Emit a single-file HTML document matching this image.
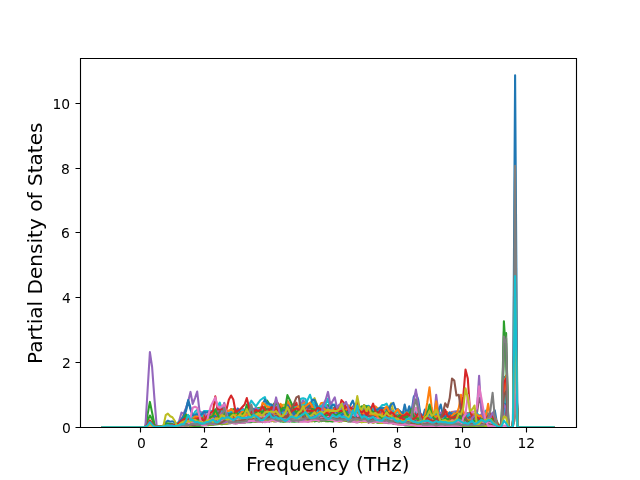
<!DOCTYPE html><html><head><meta charset="utf-8"><title>PDOS</title><style>html,body{margin:0;padding:0;background:#fff;}svg{display:block;will-change:transform}text{font-family:'DejaVu Sans','Liberation Sans',sans-serif;fill:#000}</style></head><body>
<svg width="640" height="480" viewBox="0 0 640 480">
<rect width="640" height="480" fill="#fff"/>
<defs><clipPath id="c"><rect x="80" y="57.6" width="496" height="369.6"/></clipPath></defs>
<g clip-path="url(#c)" fill="none" stroke-width="2.0833" stroke-linejoin="round" stroke-linecap="square">
<path stroke="#1f77b4" d="M102.5 427.2 104.8 427.2 107.1 427.2 109.3 427.2 111.6 427.2 113.8 427.2 116.1 427.2 118.3 427.2 120.6 427.2 122.8 427.2 125.1 427.2 127.3 427.2 129.6 427.2 131.9 427.2 134.1 427.2 136.4 427.2 138.6 427.2 140.9 427.2 143.1 427.2 145.4 427.1 147.6 425.4 149.9 423.6 152.1 425.1 154.4 426.8 156.7 426.8 158.9 426.7 161.2 426.5 163.4 426.3 165.7 426.1 167.9 426.0 170.2 425.4 172.4 424.8 174.7 425.0 176.9 425.2 179.2 423.4 181.5 421.3 183.7 420.8 186.0 420.5 188.2 419.6 190.5 421.4 192.7 420.3 195.0 420.0 197.2 420.8 199.5 418.8 201.7 419.9 204.0 421.2 206.3 419.9 208.5 420.3 210.8 421.4 213.0 420.0 215.3 417.4 217.5 415.8 219.8 416.6 222.0 416.6 224.3 416.7 226.5 416.8 228.8 414.9 231.1 415.9 233.3 416.2 235.6 416.5 237.8 417.9 240.1 417.0 242.3 413.2 244.6 414.5 246.8 415.9 249.1 415.4 251.3 415.9 253.6 415.1 255.9 415.9 258.1 415.4 260.4 416.1 262.6 412.6 264.9 415.1 267.1 416.8 269.4 414.3 271.6 414.0 273.9 414.4 276.1 415.6 278.4 410.4 280.7 405.1 282.9 413.7 285.2 414.2 287.4 413.8 289.7 414.3 291.9 417.0 294.2 416.6 296.4 414.3 298.7 412.6 300.9 409.8 303.2 411.9 305.5 410.2 307.7 406.8 310.0 414.2 312.2 415.0 314.5 413.0 316.7 412.4 319.0 411.6 321.2 413.2 323.5 414.7 325.7 412.0 328.0 405.4 330.3 410.6 332.5 417.5 334.8 416.1 337.0 415.6 339.3 414.1 341.5 412.7 343.8 408.1 346.0 409.8 348.3 411.6 350.5 412.8 352.8 412.3 355.1 411.2 357.3 410.0 359.6 413.4 361.8 414.4 364.1 410.8 366.3 412.0 368.6 415.2 370.8 417.1 373.1 417.2 375.3 418.3 377.6 419.7 379.9 415.3 382.1 413.8 384.4 414.8 386.6 413.1 388.9 414.3 391.1 416.8 393.4 420.4 395.6 419.2 397.9 416.7 400.1 413.5 402.4 412.2 404.7 415.5 406.9 420.0 409.2 421.2 411.4 418.4 413.7 417.9 415.9 418.1 418.2 419.7 420.4 420.6 422.7 421.7 424.9 420.6 427.2 420.4 429.5 419.3 431.7 418.9 434.0 420.1 436.2 420.2 438.5 419.8 440.7 417.9 443.0 418.1 445.2 420.2 447.5 420.3 449.7 417.2 452.0 417.6 454.3 416.2 456.5 417.0 458.8 419.6 461.0 420.6 463.3 419.9 465.5 418.6 467.8 418.9 470.0 421.0 472.3 420.9 474.5 419.9 476.8 419.5 479.1 422.4 481.3 420.9 483.6 420.6 485.8 419.8 488.1 420.0 490.3 418.6 492.6 418.9 494.8 421.9 497.1 424.7 499.3 427.2 501.6 422.5 503.9 409.6 506.1 391.9 508.4 427.2 510.6 427.2 512.9 427.2 515.1 398.5 517.4 427.2 519.6 427.2 521.9 427.2 524.1 427.2 526.4 427.2 528.7 427.2 530.9 427.2 533.2 427.2 535.4 427.2 537.7 427.2 539.9 427.2 542.2 427.2 544.4 427.2 546.7 427.2 548.9 427.2 551.2 427.2 553.5 427.2"/>
<path stroke="#ff7f0e" d="M102.5 427.2 104.8 427.2 107.1 427.2 109.3 427.2 111.6 427.2 113.8 427.2 116.1 427.2 118.3 427.2 120.6 427.2 122.8 427.2 125.1 427.2 127.3 427.2 129.6 427.2 131.9 427.2 134.1 427.2 136.4 427.2 138.6 427.2 140.9 427.2 143.1 427.2 145.4 427.1 147.6 426.2 149.9 425.2 152.1 426.0 154.4 426.7 156.7 426.7 158.9 426.5 161.2 426.4 163.4 426.2 165.7 425.5 167.9 424.7 170.2 424.8 172.4 424.9 174.7 424.8 176.9 425.1 179.2 423.3 181.5 421.0 183.7 414.3 186.0 414.1 188.2 417.2 190.5 419.4 192.7 420.7 195.0 415.3 197.2 412.7 199.5 416.8 201.7 416.0 204.0 416.5 206.3 418.5 208.5 413.9 210.8 410.7 213.0 412.9 215.3 413.1 217.5 412.3 219.8 415.9 222.0 413.1 224.3 412.0 226.5 414.8 228.8 412.2 231.1 415.0 233.3 417.8 235.6 415.8 237.8 414.3 240.1 413.2 242.3 413.8 244.6 411.0 246.8 412.7 249.1 412.0 251.3 413.0 253.6 411.1 255.9 407.6 258.1 409.0 260.4 411.7 262.6 412.1 264.9 406.5 267.1 405.5 269.4 407.2 271.6 409.0 273.9 412.6 276.1 413.5 278.4 411.5 280.7 409.2 282.9 409.0 285.2 410.7 287.4 406.8 289.7 405.2 291.9 406.3 294.2 406.7 296.4 410.7 298.7 410.1 300.9 407.4 303.2 405.0 305.5 406.4 307.7 410.9 310.0 407.8 312.2 409.0 314.5 409.8 316.7 411.6 319.0 407.4 321.2 403.0 323.5 402.9 325.7 407.6 328.0 413.3 330.3 412.8 332.5 411.6 334.8 411.2 337.0 407.6 339.3 409.1 341.5 409.3 343.8 408.6 346.0 412.7 348.3 413.8 350.5 412.1 352.8 406.4 355.1 405.7 357.3 405.7 359.6 409.0 361.8 413.7 364.1 411.6 366.3 409.9 368.6 414.0 370.8 413.1 373.1 408.1 375.3 406.4 377.6 408.2 379.9 411.1 382.1 410.9 384.4 408.5 386.6 410.8 388.9 410.1 391.1 408.3 393.4 413.9 395.6 416.1 397.9 414.9 400.1 412.5 402.4 412.2 404.7 413.2 406.9 413.5 409.2 417.2 411.4 416.6 413.7 415.6 415.9 418.2 418.2 419.9 420.4 419.9 422.7 419.2 424.9 418.4 427.2 418.5 429.5 415.0 431.7 411.6 434.0 415.1 436.2 414.4 438.5 416.0 440.7 417.5 443.0 416.8 445.2 417.0 447.5 416.3 449.7 416.7 452.0 411.7 454.3 412.6 456.5 416.8 458.8 412.5 461.0 411.4 463.3 415.9 465.5 415.1 467.8 418.0 470.0 417.3 472.3 418.4 474.5 417.9 476.8 420.9 479.1 421.6 481.3 416.2 483.6 411.4 485.8 415.3 488.1 414.3 490.3 415.2 492.6 418.3 494.8 419.1 497.1 422.9 499.3 427.2 501.6 423.7 503.9 409.3 506.1 398.8 508.4 427.2 510.6 427.2 512.9 427.2 515.1 358.6 517.4 427.2 519.6 427.2 521.9 427.2 524.1 427.2 526.4 427.2 528.7 427.2 530.9 427.2 533.2 427.2 535.4 427.2 537.7 427.2 539.9 427.2 542.2 427.2 544.4 427.2 546.7 427.2 548.9 427.2 551.2 427.2 553.5 427.2"/>
<path stroke="#2ca02c" d="M102.5 427.2 104.8 427.2 107.1 427.2 109.3 427.2 111.6 427.2 113.8 427.2 116.1 427.2 118.3 427.2 120.6 427.2 122.8 427.2 125.1 427.2 127.3 427.2 129.6 427.2 131.9 427.2 134.1 427.2 136.4 427.2 138.6 427.2 140.9 427.2 143.1 427.2 145.4 427.1 147.6 426.3 149.9 425.5 152.1 426.2 154.4 426.9 156.7 426.7 158.9 426.2 161.2 426.1 163.4 426.0 165.7 426.1 167.9 426.3 170.2 426.0 172.4 425.0 174.7 424.9 176.9 424.9 179.2 422.7 181.5 421.9 183.7 417.5 186.0 415.0 188.2 419.4 190.5 420.0 192.7 417.7 195.0 417.8 197.2 417.0 199.5 418.6 201.7 417.2 204.0 417.6 206.3 418.6 208.5 418.2 210.8 417.2 213.0 418.7 215.3 416.7 217.5 414.4 219.8 413.8 222.0 414.8 224.3 411.5 226.5 414.7 228.8 415.7 231.1 410.1 233.3 409.1 235.6 414.1 237.8 415.1 240.1 414.2 242.3 414.7 244.6 413.0 246.8 408.7 249.1 410.2 251.3 411.4 253.6 410.7 255.9 411.0 258.1 408.1 260.4 407.7 262.6 410.5 264.9 408.3 267.1 400.6 269.4 404.4 271.6 407.5 273.9 403.7 276.1 409.5 278.4 411.9 280.7 410.6 282.9 412.5 285.2 412.2 287.4 409.8 289.7 410.5 291.9 412.2 294.2 413.0 296.4 412.4 298.7 408.8 300.9 411.0 303.2 408.0 305.5 402.9 307.7 408.6 310.0 405.6 312.2 402.9 314.5 408.7 316.7 412.6 319.0 409.5 321.2 406.7 323.5 406.2 325.7 408.2 328.0 405.1 330.3 405.4 332.5 410.0 334.8 406.8 337.0 409.8 339.3 412.9 341.5 410.5 343.8 403.0 346.0 407.9 348.3 414.3 350.5 411.8 352.8 409.1 355.1 410.2 357.3 412.8 359.6 414.9 361.8 411.6 364.1 412.0 366.3 411.9 368.6 413.6 370.8 413.9 373.1 410.8 375.3 411.6 377.6 414.9 379.9 415.5 382.1 413.3 384.4 409.7 386.6 410.6 388.9 412.3 391.1 413.7 393.4 415.0 395.6 416.3 397.9 417.8 400.1 413.5 402.4 415.8 404.7 416.1 406.9 411.5 409.2 412.9 411.4 414.8 413.7 417.6 415.9 419.3 418.2 417.2 420.4 415.6 422.7 417.7 424.9 416.4 427.2 419.0 429.5 418.5 431.7 416.2 434.0 416.8 436.2 417.1 438.5 418.9 440.7 419.4 443.0 420.1 445.2 419.9 447.5 420.2 449.7 419.5 452.0 416.4 454.3 417.1 456.5 417.2 458.8 411.0 461.0 417.1 463.3 418.8 465.5 413.5 467.8 413.4 470.0 418.6 472.3 420.1 474.5 419.3 476.8 416.6 479.1 418.4 481.3 419.0 483.6 417.3 485.8 415.6 488.1 418.6 490.3 418.9 492.6 420.0 494.8 417.7 497.1 422.0 499.3 427.2 501.6 423.9 503.9 412.3 506.1 413.4 508.4 427.2 510.6 427.2 512.9 427.2 515.1 379.7 517.4 427.2 519.6 427.2 521.9 427.2 524.1 427.2 526.4 427.2 528.7 427.2 530.9 427.2 533.2 427.2 535.4 427.2 537.7 427.2 539.9 427.2 542.2 427.2 544.4 427.2 546.7 427.2 548.9 427.2 551.2 427.2 553.5 427.2"/>
<path stroke="#d62728" d="M102.5 427.2 104.8 427.2 107.1 427.2 109.3 427.2 111.6 427.2 113.8 427.2 116.1 427.2 118.3 427.2 120.6 427.2 122.8 427.2 125.1 427.2 127.3 427.2 129.6 427.2 131.9 427.2 134.1 427.2 136.4 427.2 138.6 427.2 140.9 427.2 143.1 427.2 145.4 427.1 147.6 426.4 149.9 425.6 152.1 426.3 154.4 427.0 156.7 427.0 158.9 427.0 161.2 427.0 163.4 426.8 165.7 426.6 167.9 426.5 170.2 426.1 172.4 426.2 174.7 425.9 176.9 425.4 179.2 423.9 181.5 423.2 183.7 422.8 186.0 422.5 188.2 422.4 190.5 422.0 192.7 422.5 195.0 421.7 197.2 421.9 199.5 422.1 201.7 421.9 204.0 420.5 206.3 421.8 208.5 421.3 210.8 420.5 213.0 419.8 215.3 419.4 217.5 418.7 219.8 419.1 222.0 420.9 224.3 420.7 226.5 420.9 228.8 420.1 231.1 420.8 233.3 420.8 235.6 419.1 237.8 416.4 240.1 417.0 242.3 417.1 244.6 416.7 246.8 419.6 249.1 420.8 251.3 419.3 253.6 417.5 255.9 414.6 258.1 413.7 260.4 416.6 262.6 412.1 264.9 411.9 267.1 413.9 269.4 413.0 271.6 411.2 273.9 415.3 276.1 417.1 278.4 416.9 280.7 418.2 282.9 416.5 285.2 416.3 287.4 415.7 289.7 415.9 291.9 416.8 294.2 415.5 296.4 417.2 298.7 416.5 300.9 417.6 303.2 415.8 305.5 416.6 307.7 417.0 310.0 418.3 312.2 419.4 314.5 418.1 316.7 416.0 319.0 416.0 321.2 418.9 323.5 419.8 325.7 418.7 328.0 417.5 330.3 417.7 332.5 417.3 334.8 415.0 337.0 414.4 339.3 415.9 341.5 417.7 343.8 416.9 346.0 417.7 348.3 418.6 350.5 416.0 352.8 415.6 355.1 416.2 357.3 414.1 359.6 415.2 361.8 415.1 364.1 413.6 366.3 415.4 368.6 418.9 370.8 418.5 373.1 417.1 375.3 418.6 377.6 418.4 379.9 417.0 382.1 414.9 384.4 414.8 386.6 416.3 388.9 418.1 391.1 417.5 393.4 418.7 395.6 419.7 397.9 418.8 400.1 419.7 402.4 420.8 404.7 419.9 406.9 420.4 409.2 420.8 411.4 422.2 413.7 422.2 415.9 423.0 418.2 423.7 420.4 423.5 422.7 421.1 424.9 422.0 427.2 422.0 429.5 421.1 431.7 421.8 434.0 422.5 436.2 423.5 438.5 422.8 440.7 422.1 443.0 421.3 445.2 422.1 447.5 423.8 449.7 424.0 452.0 422.9 454.3 420.6 456.5 420.1 458.8 421.6 461.0 424.0 463.3 424.6 465.5 423.3 467.8 422.6 470.0 422.5 472.3 422.0 474.5 422.9 476.8 423.8 479.1 423.6 481.3 422.6 483.6 422.5 485.8 421.7 488.1 419.7 490.3 421.6 492.6 423.4 494.8 424.8 497.1 425.9 499.3 427.2 501.6 425.0 503.9 399.2 506.1 383.4 508.4 427.2 510.6 427.2 512.9 427.2 515.1 317.4 517.4 427.2 519.6 427.2 521.9 427.2 524.1 427.2 526.4 427.2 528.7 427.2 530.9 427.2 533.2 427.2 535.4 427.2 537.7 427.2 539.9 427.2 542.2 427.2 544.4 427.2 546.7 427.2 548.9 427.2 551.2 427.2 553.5 427.2"/>
<path stroke="#9467bd" d="M102.5 427.2 104.8 427.2 107.1 427.2 109.3 427.2 111.6 427.2 113.8 427.2 116.1 427.2 118.3 427.2 120.6 427.2 122.8 427.2 125.1 427.2 127.3 427.2 129.6 427.2 131.9 427.2 134.1 427.2 136.4 427.2 138.6 427.2 140.9 427.2 143.1 427.2 145.4 427.2 147.6 426.2 149.9 425.2 152.1 426.0 154.4 427.0 156.7 427.1 158.9 427.0 161.2 426.8 163.4 426.7 165.7 426.6 167.9 426.4 170.2 426.2 172.4 426.1 174.7 426.1 176.9 426.0 179.2 424.7 181.5 424.7 183.7 423.8 186.0 422.3 188.2 422.3 190.5 422.2 192.7 421.5 195.0 420.6 197.2 420.7 199.5 419.7 201.7 422.5 204.0 422.6 206.3 422.5 208.5 422.2 210.8 420.8 213.0 419.6 215.3 421.1 217.5 420.9 219.8 419.4 222.0 418.2 224.3 416.8 226.5 417.8 228.8 419.2 231.1 419.8 233.3 419.6 235.6 420.1 237.8 420.4 240.1 419.4 242.3 419.0 244.6 419.1 246.8 418.5 249.1 415.8 251.3 415.9 253.6 416.4 255.9 418.7 258.1 419.2 260.4 418.0 262.6 417.1 264.9 417.6 267.1 416.8 269.4 414.4 271.6 416.1 273.9 418.2 276.1 418.2 278.4 417.6 280.7 417.6 282.9 418.4 285.2 417.3 287.4 415.7 289.7 416.5 291.9 418.0 294.2 417.9 296.4 417.0 298.7 415.6 300.9 414.8 303.2 415.9 305.5 417.2 307.7 415.0 310.0 415.5 312.2 415.1 314.5 415.6 316.7 417.7 319.0 417.4 321.2 415.9 323.5 414.7 325.7 417.7 328.0 420.4 330.3 418.2 332.5 415.4 334.8 414.1 337.0 414.0 339.3 411.8 341.5 412.4 343.8 413.1 346.0 415.8 348.3 418.3 350.5 416.2 352.8 415.2 355.1 416.8 357.3 416.2 359.6 417.3 361.8 418.3 364.1 417.6 366.3 417.3 368.6 417.7 370.8 418.4 373.1 418.5 375.3 420.4 377.6 420.2 379.9 420.6 382.1 419.5 384.4 418.0 386.6 418.4 388.9 419.1 391.1 418.5 393.4 418.4 395.6 420.7 397.9 420.7 400.1 422.0 402.4 421.8 404.7 421.5 406.9 421.8 409.2 421.0 411.4 420.9 413.7 422.6 415.9 422.7 418.2 423.3 420.4 424.1 422.7 423.5 424.9 423.1 427.2 422.1 429.5 422.4 431.7 421.3 434.0 422.3 436.2 421.2 438.5 421.6 440.7 421.3 443.0 420.7 445.2 420.6 447.5 420.4 449.7 420.3 452.0 422.2 454.3 423.4 456.5 424.0 458.8 422.7 461.0 421.6 463.3 421.9 465.5 422.2 467.8 422.7 470.0 423.0 472.3 422.7 474.5 423.0 476.8 423.9 479.1 423.3 481.3 423.7 483.6 423.4 485.8 423.2 488.1 423.2 490.3 423.6 492.6 424.4 494.8 424.9 497.1 425.9 499.3 427.2 501.6 426.6 503.9 407.5 506.1 396.6 508.4 427.2 510.6 427.2 512.9 427.2 515.1 301.2 517.4 427.2 519.6 427.2 521.9 427.2 524.1 427.2 526.4 427.2 528.7 427.2 530.9 427.2 533.2 427.2 535.4 427.2 537.7 427.2 539.9 427.2 542.2 427.2 544.4 427.2 546.7 427.2 548.9 427.2 551.2 427.2 553.5 427.2"/>
<path stroke="#8c564b" d="M102.5 427.2 104.8 427.2 107.1 427.2 109.3 427.2 111.6 427.2 113.8 427.2 116.1 427.2 118.3 427.2 120.6 427.2 122.8 427.2 125.1 427.2 127.3 427.2 129.6 427.2 131.9 427.2 134.1 427.2 136.4 427.2 138.6 427.2 140.9 427.2 143.1 427.2 145.4 427.2 147.6 426.7 149.9 426.2 152.1 426.6 154.4 427.1 156.7 427.1 158.9 427.0 161.2 427.0 163.4 426.9 165.7 426.9 167.9 426.6 170.2 426.5 172.4 426.5 174.7 426.3 176.9 426.3 179.2 425.9 181.5 425.7 183.7 425.3 186.0 425.0 188.2 425.3 190.5 425.6 192.7 425.2 195.0 424.5 197.2 424.5 199.5 424.6 201.7 424.3 204.0 423.9 206.3 423.8 208.5 424.1 210.8 423.8 213.0 423.8 215.3 423.9 217.5 423.9 219.8 423.3 222.0 422.7 224.3 421.3 226.5 422.0 228.8 422.4 231.1 421.9 233.3 420.9 235.6 422.0 237.8 422.0 240.1 421.9 242.3 421.5 244.6 420.9 246.8 420.5 249.1 421.6 251.3 420.6 253.6 419.2 255.9 420.5 258.1 420.8 260.4 421.5 262.6 422.2 264.9 420.5 267.1 418.9 269.4 420.2 271.6 421.2 273.9 420.0 276.1 419.3 278.4 418.2 280.7 418.6 282.9 419.5 285.2 419.9 287.4 420.6 289.7 418.8 291.9 418.4 294.2 417.9 296.4 418.3 298.7 419.4 300.9 419.7 303.2 420.3 305.5 421.1 307.7 420.1 310.0 419.7 312.2 419.9 314.5 418.7 316.7 418.8 319.0 419.2 321.2 420.5 323.5 420.9 325.7 419.2 328.0 418.8 330.3 419.6 332.5 420.0 334.8 420.0 337.0 420.2 339.3 420.9 341.5 421.3 343.8 420.1 346.0 421.0 348.3 420.8 350.5 420.2 352.8 420.0 355.1 420.8 357.3 419.2 359.6 419.2 361.8 419.1 364.1 419.0 366.3 421.3 368.6 422.7 370.8 420.9 373.1 419.2 375.3 419.7 377.6 421.2 379.9 421.2 382.1 421.4 384.4 422.5 386.6 422.4 388.9 421.9 391.1 421.0 393.4 422.0 395.6 421.8 397.9 423.0 400.1 423.7 402.4 422.7 404.7 423.9 406.9 423.4 409.2 423.0 411.4 424.3 413.7 424.8 415.9 424.4 418.2 424.8 420.4 425.4 422.7 425.5 424.9 425.1 427.2 424.7 429.5 424.8 431.7 424.5 434.0 424.1 436.2 424.2 438.5 424.1 440.7 424.3 443.0 425.1 445.2 424.5 447.5 424.7 449.7 425.0 452.0 425.3 454.3 425.4 456.5 425.2 458.8 425.0 461.0 425.4 463.3 425.4 465.5 425.1 467.8 424.7 470.0 424.9 472.3 424.8 474.5 424.6 476.8 425.0 479.1 425.1 481.3 425.3 483.6 425.1 485.8 424.9 488.1 424.9 490.3 425.2 492.6 425.7 494.8 426.0 497.1 426.6 499.3 427.2 501.6 423.4 503.9 396.5 506.1 389.6 508.4 427.2 510.6 427.2 512.9 427.2 515.1 341.4 517.4 427.2 519.6 427.2 521.9 427.2 524.1 427.2 526.4 427.2 528.7 427.2 530.9 427.2 533.2 427.2 535.4 427.2 537.7 427.2 539.9 427.2 542.2 427.2 544.4 427.2 546.7 427.2 548.9 427.2 551.2 427.2 553.5 427.2"/>
<path stroke="#e377c2" d="M102.5 427.2 104.8 427.2 107.1 427.2 109.3 427.2 111.6 427.2 113.8 427.2 116.1 427.2 118.3 427.2 120.6 427.2 122.8 427.2 125.1 427.2 127.3 427.2 129.6 427.2 131.9 427.2 134.1 427.2 136.4 427.2 138.6 427.2 140.9 427.2 143.1 427.2 145.4 427.2 147.6 425.9 149.9 424.5 152.1 425.6 154.4 427.1 156.7 427.1 158.9 427.1 161.2 427.1 163.4 427.0 165.7 426.8 167.9 426.7 170.2 426.4 172.4 426.5 174.7 426.4 176.9 426.1 179.2 425.4 181.5 424.9 183.7 424.8 186.0 424.9 188.2 424.4 190.5 424.7 192.7 424.6 195.0 424.7 197.2 424.3 199.5 424.4 201.7 423.6 204.0 422.8 206.3 423.2 208.5 424.1 210.8 424.2 213.0 423.7 215.3 422.6 217.5 422.2 219.8 422.2 222.0 421.9 224.3 421.6 226.5 421.0 228.8 420.3 231.1 421.3 233.3 421.9 235.6 422.9 237.8 422.6 240.1 422.1 242.3 421.9 244.6 420.6 246.8 419.8 249.1 420.7 251.3 421.0 253.6 420.7 255.9 420.3 258.1 420.3 260.4 419.5 262.6 419.1 264.9 419.0 267.1 418.6 269.4 418.8 271.6 418.5 273.9 417.4 276.1 418.6 278.4 418.4 280.7 419.2 282.9 419.8 285.2 420.1 287.4 420.0 289.7 419.5 291.9 419.7 294.2 419.3 296.4 418.2 298.7 418.4 300.9 417.6 303.2 417.4 305.5 417.9 307.7 419.3 310.0 418.3 312.2 415.0 314.5 416.2 316.7 417.4 319.0 418.2 321.2 418.6 323.5 420.2 325.7 420.2 328.0 418.8 330.3 418.3 332.5 419.4 334.8 419.7 337.0 420.0 339.3 420.3 341.5 421.0 343.8 421.0 346.0 420.6 348.3 421.4 350.5 421.1 352.8 420.5 355.1 420.5 357.3 419.9 359.6 420.4 361.8 420.6 364.1 420.9 366.3 420.6 368.6 419.9 370.8 420.1 373.1 420.7 375.3 420.4 377.6 420.5 379.9 420.1 382.1 419.5 384.4 420.7 386.6 420.8 388.9 421.0 391.1 421.9 393.4 422.7 395.6 422.2 397.9 422.5 400.1 422.9 402.4 423.2 404.7 423.7 406.9 424.0 409.2 424.0 411.4 424.6 413.7 424.6 415.9 425.0 418.2 424.8 420.4 424.5 422.7 424.8 424.9 424.9 427.2 424.7 429.5 424.8 431.7 424.9 434.0 424.9 436.2 424.2 438.5 424.2 440.7 424.4 443.0 424.8 445.2 424.7 447.5 425.1 449.7 424.8 452.0 424.6 454.3 423.7 456.5 424.5 458.8 423.9 461.0 424.3 463.3 425.3 465.5 424.8 467.8 423.7 470.0 424.1 472.3 425.2 474.5 425.3 476.8 425.5 479.1 425.5 481.3 425.0 483.6 424.1 485.8 424.5 488.1 424.8 490.3 424.8 492.6 424.9 494.8 425.6 497.1 426.5 499.3 427.2 501.6 425.9 503.9 396.2 506.1 401.2 508.4 427.2 510.6 427.2 512.9 427.2 515.1 364.7 517.4 427.2 519.6 427.2 521.9 427.2 524.1 427.2 526.4 427.2 528.7 427.2 530.9 427.2 533.2 427.2 535.4 427.2 537.7 427.2 539.9 427.2 542.2 427.2 544.4 427.2 546.7 427.2 548.9 427.2 551.2 427.2 553.5 427.2"/>
<path stroke="#7f7f7f" d="M102.5 427.2 104.8 427.2 107.1 427.2 109.3 427.2 111.6 427.2 113.8 427.2 116.1 427.2 118.3 427.2 120.6 427.2 122.8 427.2 125.1 427.2 127.3 427.2 129.6 427.2 131.9 427.2 134.1 427.2 136.4 427.2 138.6 427.2 140.9 427.2 143.1 427.2 145.4 427.1 147.6 426.1 149.9 425.1 152.1 425.9 154.4 426.7 156.7 426.8 158.9 426.8 161.2 426.6 163.4 426.4 165.7 426.2 167.9 425.9 170.2 425.6 172.4 425.5 174.7 425.7 176.9 425.5 179.2 423.4 181.5 422.2 183.7 420.9 186.0 421.2 188.2 422.8 190.5 421.9 192.7 418.9 195.0 419.7 197.2 420.7 199.5 421.6 201.7 421.2 204.0 420.5 206.3 419.9 208.5 419.2 210.8 419.4 213.0 418.9 215.3 417.3 217.5 416.0 219.8 415.6 222.0 412.6 224.3 415.2 226.5 416.7 228.8 416.9 231.1 415.5 233.3 418.4 235.6 419.6 237.8 417.7 240.1 415.6 242.3 416.3 244.6 413.5 246.8 415.4 249.1 417.7 251.3 415.1 253.6 411.0 255.9 415.7 258.1 416.5 260.4 412.3 262.6 408.6 264.9 410.1 267.1 412.6 269.4 411.2 271.6 410.5 273.9 407.7 276.1 406.4 278.4 410.0 280.7 410.6 282.9 412.4 285.2 412.8 287.4 414.9 289.7 414.5 291.9 412.9 294.2 414.1 296.4 413.1 298.7 413.8 300.9 412.7 303.2 411.3 305.5 412.4 307.7 412.2 310.0 408.0 312.2 402.4 314.5 411.5 316.7 412.5 319.0 413.6 321.2 414.7 323.5 413.4 325.7 414.8 328.0 413.0 330.3 411.5 332.5 415.6 334.8 413.6 337.0 413.2 339.3 415.2 341.5 412.7 343.8 411.9 346.0 413.1 348.3 412.2 350.5 414.6 352.8 411.5 355.1 413.1 357.3 415.4 359.6 415.7 361.8 414.6 364.1 412.4 366.3 415.3 368.6 415.6 370.8 414.8 373.1 412.6 375.3 415.4 377.6 415.2 379.9 417.4 382.1 415.4 384.4 414.5 386.6 414.5 388.9 417.5 391.1 419.7 393.4 419.3 395.6 416.1 397.9 417.2 400.1 418.3 402.4 416.8 404.7 418.9 406.9 419.5 409.2 419.0 411.4 414.5 413.7 414.1 415.9 419.2 418.2 419.1 420.4 416.8 422.7 417.2 424.9 421.7 427.2 420.3 429.5 418.9 431.7 420.6 434.0 419.8 436.2 419.3 438.5 418.8 440.7 419.0 443.0 418.3 445.2 419.2 447.5 418.8 449.7 418.7 452.0 419.5 454.3 419.1 456.5 414.0 458.8 413.8 461.0 417.0 463.3 419.9 465.5 418.8 467.8 415.4 470.0 417.1 472.3 419.9 474.5 420.0 476.8 419.9 479.1 420.7 481.3 420.5 483.6 418.0 485.8 417.9 488.1 419.8 490.3 421.4 492.6 422.0 494.8 422.4 497.1 424.5 499.3 427.2 501.6 422.7 503.9 392.2 506.1 395.1 508.4 427.2 510.6 427.2 512.9 427.2 515.1 309.2 517.4 427.2 519.6 427.2 521.9 427.2 524.1 427.2 526.4 427.2 528.7 427.2 530.9 427.2 533.2 427.2 535.4 427.2 537.7 427.2 539.9 427.2 542.2 427.2 544.4 427.2 546.7 427.2 548.9 427.2 551.2 427.2 553.5 427.2"/>
<path stroke="#bcbd22" d="M102.5 427.2 104.8 427.2 107.1 427.2 109.3 427.2 111.6 427.2 113.8 427.2 116.1 427.2 118.3 427.2 120.6 427.2 122.8 427.2 125.1 427.2 127.3 427.2 129.6 427.2 131.9 427.2 134.1 427.2 136.4 427.2 138.6 427.2 140.9 427.2 143.1 427.2 145.4 427.1 147.6 425.5 149.9 423.8 152.1 425.2 154.4 426.7 156.7 426.7 158.9 426.5 161.2 426.4 163.4 426.4 165.7 426.0 167.9 425.3 170.2 425.1 172.4 425.3 174.7 424.7 176.9 423.9 179.2 422.2 181.5 419.5 183.7 417.1 186.0 417.6 188.2 418.1 190.5 418.5 192.7 416.8 195.0 417.3 197.2 418.7 199.5 418.5 201.7 418.4 204.0 417.6 206.3 417.7 208.5 419.1 210.8 418.1 213.0 415.3 215.3 413.9 217.5 411.8 219.8 406.3 222.0 409.4 224.3 413.9 226.5 412.4 228.8 410.5 231.1 414.1 233.3 417.7 235.6 415.7 237.8 411.7 240.1 409.7 242.3 414.8 244.6 411.4 246.8 411.9 249.1 411.3 251.3 412.8 253.6 411.1 255.9 409.2 258.1 409.7 260.4 408.4 262.6 410.7 264.9 412.4 267.1 411.8 269.4 410.8 271.6 409.6 273.9 408.1 276.1 413.9 278.4 414.9 280.7 411.2 282.9 404.7 285.2 404.8 287.4 404.1 289.7 405.9 291.9 411.0 294.2 413.4 296.4 417.3 298.7 414.2 300.9 410.5 303.2 413.5 305.5 416.0 307.7 415.1 310.0 410.9 312.2 402.3 314.5 398.2 316.7 403.9 319.0 414.7 321.2 416.4 323.5 411.1 325.7 409.4 328.0 414.1 330.3 413.3 332.5 411.8 334.8 411.1 337.0 411.5 339.3 409.8 341.5 407.6 343.8 408.5 346.0 407.1 348.3 405.8 350.5 412.5 352.8 412.3 355.1 407.1 357.3 403.8 359.6 409.4 361.8 409.3 364.1 409.3 366.3 408.1 368.6 411.9 370.8 411.2 373.1 410.8 375.3 410.3 377.6 408.4 379.9 409.6 382.1 412.3 384.4 412.0 386.6 414.7 388.9 409.4 391.1 403.3 393.4 410.7 395.6 414.1 397.9 414.7 400.1 413.8 402.4 415.0 404.7 414.6 406.9 415.2 409.2 415.8 411.4 414.9 413.7 416.9 415.9 418.5 418.2 414.3 420.4 417.2 422.7 419.8 424.9 416.9 427.2 416.9 429.5 416.1 431.7 415.9 434.0 420.2 436.2 422.2 438.5 419.2 440.7 415.1 443.0 414.0 445.2 417.4 447.5 418.0 449.7 416.4 452.0 416.3 454.3 415.3 456.5 414.8 458.8 416.1 461.0 414.4 463.3 417.7 465.5 417.1 467.8 417.4 470.0 417.7 472.3 415.4 474.5 414.1 476.8 413.9 479.1 416.5 481.3 417.6 483.6 417.3 485.8 419.1 488.1 417.3 490.3 415.3 492.6 418.4 494.8 422.6 497.1 424.9 499.3 427.2 501.6 422.6 503.9 411.3 506.1 402.1 508.4 427.2 510.6 427.2 512.9 427.2 515.1 368.9 517.4 427.2 519.6 427.2 521.9 427.2 524.1 427.2 526.4 427.2 528.7 427.2 530.9 427.2 533.2 427.2 535.4 427.2 537.7 427.2 539.9 427.2 542.2 427.2 544.4 427.2 546.7 427.2 548.9 427.2 551.2 427.2 553.5 427.2"/>
<path stroke="#17becf" d="M102.5 427.2 104.8 427.2 107.1 427.2 109.3 427.2 111.6 427.2 113.8 427.2 116.1 427.2 118.3 427.2 120.6 427.2 122.8 427.2 125.1 427.2 127.3 427.2 129.6 427.2 131.9 427.2 134.1 427.2 136.4 427.2 138.6 427.2 140.9 427.2 143.1 427.2 145.4 427.1 147.6 426.1 149.9 425.0 152.1 425.9 154.4 426.8 156.7 426.8 158.9 426.7 161.2 426.6 163.4 426.5 165.7 426.1 167.9 425.9 170.2 425.5 172.4 425.0 174.7 424.6 176.9 423.5 179.2 423.6 181.5 422.6 183.7 419.4 186.0 416.4 188.2 419.4 190.5 420.6 192.7 418.0 195.0 418.6 197.2 418.2 199.5 417.2 201.7 419.3 204.0 419.3 206.3 417.7 208.5 417.2 210.8 416.8 213.0 417.7 215.3 417.0 217.5 417.8 219.8 417.4 222.0 411.3 224.3 412.1 226.5 413.6 228.8 416.1 231.1 415.6 233.3 416.3 235.6 417.3 237.8 414.2 240.1 415.1 242.3 415.6 244.6 416.1 246.8 412.0 249.1 410.4 251.3 412.4 253.6 414.6 255.9 413.7 258.1 409.7 260.4 411.1 262.6 410.8 264.9 411.8 267.1 412.2 269.4 408.0 271.6 413.8 273.9 412.3 276.1 412.6 278.4 414.2 280.7 411.6 282.9 409.5 285.2 411.5 287.4 412.6 289.7 409.2 291.9 406.7 294.2 408.3 296.4 406.6 298.7 406.9 300.9 406.1 303.2 403.8 305.5 410.6 307.7 412.6 310.0 410.4 312.2 406.3 314.5 402.1 316.7 404.8 319.0 409.3 321.2 410.6 323.5 411.7 325.7 412.8 328.0 411.9 330.3 409.2 332.5 411.4 334.8 412.2 337.0 412.2 339.3 413.5 341.5 414.1 343.8 415.6 346.0 412.7 348.3 412.1 350.5 410.6 352.8 410.1 355.1 412.4 357.3 405.3 359.6 410.2 361.8 413.2 364.1 414.3 366.3 409.8 368.6 410.6 370.8 413.2 373.1 411.5 375.3 409.8 377.6 413.9 379.9 414.4 382.1 409.6 384.4 410.7 386.6 410.6 388.9 406.5 391.1 411.1 393.4 414.8 395.6 415.5 397.9 416.3 400.1 415.2 402.4 415.2 404.7 417.0 406.9 415.8 409.2 414.2 411.4 413.5 413.7 413.7 415.9 414.7 418.2 416.4 420.4 417.0 422.7 418.5 424.9 418.1 427.2 417.3 429.5 419.7 431.7 415.6 434.0 412.1 436.2 418.8 438.5 417.4 440.7 418.7 443.0 415.6 445.2 411.4 447.5 414.2 449.7 418.6 452.0 419.7 454.3 418.4 456.5 414.8 458.8 416.1 461.0 417.0 463.3 416.7 465.5 415.5 467.8 415.4 470.0 417.4 472.3 419.0 474.5 418.1 476.8 421.0 479.1 418.4 481.3 418.5 483.6 419.1 485.8 418.9 488.1 418.3 490.3 417.8 492.6 420.3 494.8 422.4 497.1 424.2 499.3 427.2 501.6 422.6 503.9 376.8 506.1 403.0 508.4 427.2 510.6 427.2 512.9 427.2 515.1 353.0 517.4 427.2 519.6 427.2 521.9 427.2 524.1 427.2 526.4 427.2 528.7 427.2 530.9 427.2 533.2 427.2 535.4 427.2 537.7 427.2 539.9 427.2 542.2 427.2 544.4 427.2 546.7 427.2 548.9 427.2 551.2 427.2 553.5 427.2"/>
<path stroke="#1f77b4" d="M102.5 427.2 104.8 427.2 107.1 427.2 109.3 427.2 111.6 427.2 113.8 427.2 116.1 427.2 118.3 427.2 120.6 427.2 122.8 427.2 125.1 427.2 127.3 427.2 129.6 427.2 131.9 427.2 134.1 427.2 136.4 427.2 138.6 427.2 140.9 427.2 143.1 427.2 145.4 427.1 147.6 426.0 149.9 424.7 152.1 425.7 154.4 427.0 156.7 427.0 158.9 426.9 161.2 426.8 163.4 426.7 165.7 426.6 167.9 426.4 170.2 426.1 172.4 425.4 174.7 424.6 176.9 424.8 179.2 423.9 181.5 423.5 183.7 422.4 186.0 420.0 188.2 421.8 190.5 422.0 192.7 421.7 195.0 420.8 197.2 421.1 199.5 421.5 201.7 422.7 204.0 421.8 206.3 420.4 208.5 421.7 210.8 421.1 213.0 418.5 215.3 418.0 217.5 418.6 219.8 421.2 222.0 420.2 224.3 421.0 226.5 420.9 228.8 418.4 231.1 417.6 233.3 420.4 235.6 420.6 237.8 419.3 240.1 418.9 242.3 418.6 244.6 414.4 246.8 415.7 249.1 417.9 251.3 417.1 253.6 411.3 255.9 411.5 258.1 416.0 260.4 415.3 262.6 414.3 264.9 417.6 267.1 416.6 269.4 413.1 271.6 416.1 273.9 417.5 276.1 418.4 278.4 417.0 280.7 415.7 282.9 417.4 285.2 418.4 287.4 416.4 289.7 412.3 291.9 414.4 294.2 416.5 296.4 416.1 298.7 415.0 300.9 415.9 303.2 417.0 305.5 415.5 307.7 415.4 310.0 415.4 312.2 416.2 314.5 413.8 316.7 416.4 319.0 417.8 321.2 414.7 323.5 415.5 325.7 415.6 328.0 415.3 330.3 413.0 332.5 411.9 334.8 412.6 337.0 415.4 339.3 419.1 341.5 419.1 343.8 416.9 346.0 417.4 348.3 416.1 350.5 416.3 352.8 417.9 355.1 418.4 357.3 418.6 359.6 418.8 361.8 417.3 364.1 414.1 366.3 413.5 368.6 417.9 370.8 417.9 373.1 414.7 375.3 415.2 377.6 418.2 379.9 420.7 382.1 419.7 384.4 418.1 386.6 417.4 388.9 415.1 391.1 417.1 393.4 419.2 395.6 421.1 397.9 421.6 400.1 421.3 402.4 421.1 404.7 420.8 406.9 419.7 409.2 419.3 411.4 419.5 413.7 421.8 415.9 421.6 418.2 421.0 420.4 420.2 422.7 421.6 424.9 422.1 427.2 422.5 429.5 421.4 431.7 421.3 434.0 422.6 436.2 422.8 438.5 422.0 440.7 421.2 443.0 421.8 445.2 421.0 447.5 421.3 449.7 418.7 452.0 418.4 454.3 420.7 456.5 420.3 458.8 417.1 461.0 419.4 463.3 421.0 465.5 421.7 467.8 421.4 470.0 420.3 472.3 420.9 474.5 422.2 476.8 421.1 479.1 421.9 481.3 422.5 483.6 421.4 485.8 421.4 488.1 421.0 490.3 421.8 492.6 423.1 494.8 424.7 497.1 425.8 499.3 427.2 501.6 423.2 503.9 377.0 506.1 402.9 508.4 427.2 510.6 427.2 512.9 427.2 515.1 296.1 517.4 427.2 519.6 427.2 521.9 427.2 524.1 427.2 526.4 427.2 528.7 427.2 530.9 427.2 533.2 427.2 535.4 427.2 537.7 427.2 539.9 427.2 542.2 427.2 544.4 427.2 546.7 427.2 548.9 427.2 551.2 427.2 553.5 427.2"/>
<path stroke="#ff7f0e" d="M102.5 427.2 104.8 427.2 107.1 427.2 109.3 427.2 111.6 427.2 113.8 427.2 116.1 427.2 118.3 427.2 120.6 427.2 122.8 427.2 125.1 427.2 127.3 427.2 129.6 427.2 131.9 427.2 134.1 427.2 136.4 427.2 138.6 427.2 140.9 427.2 143.1 427.2 145.4 427.1 147.6 426.3 149.9 425.4 152.1 426.1 154.4 426.8 156.7 426.9 158.9 426.8 161.2 426.7 163.4 426.7 165.7 426.5 167.9 426.3 170.2 426.2 172.4 426.0 174.7 425.6 176.9 425.2 179.2 424.0 181.5 422.6 183.7 419.7 186.0 418.1 188.2 419.7 190.5 420.5 192.7 421.6 195.0 421.6 197.2 420.3 199.5 420.2 201.7 420.7 204.0 421.6 206.3 418.5 208.5 420.4 210.8 419.6 213.0 418.3 215.3 420.2 217.5 420.3 219.8 421.4 222.0 421.2 224.3 421.0 226.5 418.7 228.8 417.5 231.1 417.5 233.3 415.2 235.6 414.7 237.8 416.3 240.1 417.4 242.3 417.6 244.6 416.9 246.8 414.5 249.1 415.5 251.3 416.8 253.6 416.0 255.9 415.3 258.1 415.7 260.4 414.8 262.6 413.9 264.9 411.2 267.1 412.1 269.4 415.6 271.6 414.9 273.9 413.6 276.1 414.6 278.4 412.6 280.7 413.3 282.9 413.3 285.2 414.3 287.4 413.6 289.7 413.9 291.9 416.9 294.2 417.5 296.4 416.5 298.7 411.9 300.9 412.0 303.2 411.6 305.5 413.2 307.7 415.8 310.0 415.9 312.2 412.7 314.5 412.3 316.7 410.4 319.0 412.9 321.2 414.3 323.5 414.7 325.7 414.9 328.0 413.6 330.3 409.0 332.5 408.4 334.8 415.1 337.0 414.9 339.3 414.5 341.5 416.5 343.8 416.4 346.0 417.4 348.3 418.7 350.5 415.1 352.8 413.4 355.1 414.2 357.3 414.5 359.6 414.0 361.8 410.6 364.1 412.0 366.3 412.9 368.6 415.8 370.8 416.1 373.1 416.7 375.3 417.3 377.6 418.5 379.9 418.0 382.1 415.6 384.4 414.3 386.6 415.5 388.9 417.5 391.1 418.2 393.4 420.6 395.6 418.6 397.9 418.5 400.1 417.9 402.4 417.1 404.7 418.8 406.9 417.9 409.2 418.8 411.4 418.6 413.7 419.8 415.9 419.4 418.2 419.0 420.4 421.3 422.7 422.0 424.9 421.5 427.2 419.5 429.5 416.4 431.7 420.9 434.0 423.2 436.2 423.0 438.5 422.9 440.7 421.4 443.0 420.5 445.2 421.6 447.5 422.4 449.7 422.5 452.0 420.7 454.3 419.6 456.5 416.9 458.8 417.7 461.0 421.0 463.3 421.3 465.5 420.0 467.8 419.9 470.0 421.9 472.3 420.4 474.5 418.5 476.8 420.5 479.1 421.1 481.3 421.3 483.6 421.9 485.8 419.9 488.1 419.6 490.3 419.8 492.6 420.7 494.8 423.0 497.1 425.7 499.3 427.2 501.6 426.8 503.9 407.5 506.1 375.5 508.4 427.2 510.6 427.2 512.9 427.2 515.1 297.9 517.4 427.2 519.6 427.2 521.9 427.2 524.1 427.2 526.4 427.2 528.7 427.2 530.9 427.2 533.2 427.2 535.4 427.2 537.7 427.2 539.9 427.2 542.2 427.2 544.4 427.2 546.7 427.2 548.9 427.2 551.2 427.2 553.5 427.2"/>
<path stroke="#2ca02c" d="M102.5 427.2 104.8 427.2 107.1 427.2 109.3 427.2 111.6 427.2 113.8 427.2 116.1 427.2 118.3 427.2 120.6 427.2 122.8 427.2 125.1 427.2 127.3 427.2 129.6 427.2 131.9 427.2 134.1 427.2 136.4 427.2 138.6 427.2 140.9 427.2 143.1 427.2 145.4 427.2 147.6 425.7 149.9 424.1 152.1 425.4 154.4 427.2 156.7 427.2 158.9 427.2 161.2 427.1 163.4 427.1 165.7 427.0 167.9 426.9 170.2 426.9 172.4 426.7 174.7 426.6 176.9 426.5 179.2 426.5 181.5 426.2 183.7 426.0 186.0 425.7 188.2 425.8 190.5 425.9 192.7 425.9 195.0 425.7 197.2 425.7 199.5 425.7 201.7 425.1 204.0 424.9 206.3 425.3 208.5 425.2 210.8 424.8 213.0 424.6 215.3 423.8 217.5 424.0 219.8 424.0 222.0 424.3 224.3 423.8 226.5 423.1 228.8 423.1 231.1 423.0 233.3 421.9 235.6 422.2 237.8 422.8 240.1 423.0 242.3 422.5 244.6 421.8 246.8 422.3 249.1 422.3 251.3 422.1 253.6 421.3 255.9 421.4 258.1 421.1 260.4 421.2 262.6 421.6 264.9 420.9 267.1 420.8 269.4 421.6 271.6 420.2 273.9 418.4 276.1 420.4 278.4 421.0 280.7 421.6 282.9 421.1 285.2 421.0 287.4 420.5 289.7 420.9 291.9 421.3 294.2 420.3 296.4 420.8 298.7 421.3 300.9 421.0 303.2 421.1 305.5 420.6 307.7 420.7 310.0 420.8 312.2 420.6 314.5 421.2 316.7 420.8 319.0 421.5 321.2 420.1 323.5 420.4 325.7 421.2 328.0 421.3 330.3 420.8 332.5 421.0 334.8 420.9 337.0 420.6 339.3 421.3 341.5 421.3 343.8 420.8 346.0 420.5 348.3 421.2 350.5 421.3 352.8 421.2 355.1 420.6 357.3 420.6 359.6 421.9 361.8 421.9 364.1 421.6 366.3 421.1 368.6 420.9 370.8 421.7 373.1 421.7 375.3 421.7 377.6 422.8 379.9 422.9 382.1 422.8 384.4 422.7 386.6 422.8 388.9 423.0 391.1 422.7 393.4 423.6 395.6 423.8 397.9 423.7 400.1 424.1 402.4 424.7 404.7 425.1 406.9 425.2 409.2 425.4 411.4 425.6 413.7 425.9 415.9 426.1 418.2 426.3 420.4 426.3 422.7 426.3 424.9 426.1 427.2 426.2 429.5 426.3 431.7 426.4 434.0 426.4 436.2 426.4 438.5 426.4 440.7 426.3 443.0 426.4 445.2 426.1 447.5 425.9 449.7 426.3 452.0 426.3 454.3 426.4 456.5 426.3 458.8 426.4 461.0 426.3 463.3 426.4 465.5 426.5 467.8 426.5 470.0 426.5 472.3 426.3 474.5 426.2 476.8 426.4 479.1 426.5 481.3 426.4 483.6 426.4 485.8 426.5 488.1 426.3 490.3 426.3 492.6 426.6 494.8 426.7 497.1 427.0 499.3 427.2 501.6 423.2 503.9 413.5 506.1 381.0 508.4 427.2 510.6 427.2 512.9 427.2 515.1 285.3 517.4 427.2 519.6 427.2 521.9 427.2 524.1 427.2 526.4 427.2 528.7 427.2 530.9 427.2 533.2 427.2 535.4 427.2 537.7 427.2 539.9 427.2 542.2 427.2 544.4 427.2 546.7 427.2 548.9 427.2 551.2 427.2 553.5 427.2"/>
<path stroke="#d62728" d="M102.5 427.2 104.8 427.2 107.1 427.2 109.3 427.2 111.6 427.2 113.8 427.2 116.1 427.2 118.3 427.2 120.6 427.2 122.8 427.2 125.1 427.2 127.3 427.2 129.6 427.2 131.9 427.2 134.1 427.2 136.4 427.2 138.6 427.2 140.9 427.2 143.1 427.2 145.4 427.1 147.6 426.2 149.9 425.3 152.1 426.0 154.4 427.0 156.7 426.9 158.9 427.0 161.2 426.8 163.4 426.3 165.7 426.0 167.9 426.0 170.2 425.7 172.4 425.4 174.7 425.1 176.9 425.3 179.2 424.5 181.5 423.2 183.7 421.1 186.0 420.0 188.2 420.5 190.5 420.1 192.7 421.0 195.0 420.1 197.2 420.8 199.5 420.7 201.7 418.9 204.0 420.2 206.3 420.9 208.5 419.7 210.8 419.4 213.0 416.9 215.3 414.6 217.5 414.7 219.8 418.1 222.0 416.3 224.3 413.5 226.5 415.4 228.8 413.1 231.1 413.5 233.3 417.4 235.6 414.7 237.8 412.5 240.1 411.9 242.3 410.6 244.6 413.2 246.8 414.5 249.1 414.1 251.3 414.9 253.6 414.9 255.9 416.8 258.1 412.0 260.4 413.1 262.6 412.3 264.9 412.2 267.1 412.3 269.4 411.3 271.6 413.5 273.9 416.5 276.1 414.7 278.4 411.0 280.7 415.3 282.9 414.6 285.2 407.6 287.4 406.3 289.7 407.4 291.9 411.2 294.2 412.1 296.4 411.7 298.7 411.6 300.9 413.4 303.2 414.9 305.5 415.4 307.7 415.5 310.0 411.3 312.2 411.9 314.5 412.1 316.7 411.8 319.0 412.3 321.2 412.3 323.5 414.8 325.7 415.5 328.0 410.9 330.3 413.6 332.5 414.8 334.8 415.4 337.0 415.4 339.3 414.0 341.5 412.8 343.8 414.6 346.0 414.3 348.3 414.3 350.5 412.1 352.8 413.9 355.1 412.7 357.3 412.6 359.6 416.6 361.8 415.1 364.1 413.4 366.3 414.7 368.6 414.6 370.8 413.0 373.1 414.2 375.3 416.0 377.6 416.0 379.9 413.8 382.1 411.3 384.4 411.7 386.6 411.6 388.9 412.9 391.1 418.3 393.4 420.5 395.6 420.8 397.9 419.0 400.1 420.5 402.4 418.6 404.7 417.6 406.9 419.7 409.2 419.5 411.4 418.2 413.7 418.2 415.9 420.7 418.2 419.7 420.4 418.7 422.7 419.5 424.9 419.2 427.2 417.9 429.5 418.6 431.7 419.5 434.0 420.2 436.2 419.7 438.5 419.8 440.7 418.1 443.0 417.5 445.2 417.6 447.5 420.3 449.7 419.5 452.0 417.7 454.3 416.1 456.5 414.8 458.8 416.3 461.0 416.1 463.3 414.9 465.5 417.2 467.8 420.7 470.0 421.2 472.3 419.2 474.5 420.1 476.8 420.1 479.1 419.9 481.3 417.5 483.6 418.2 485.8 420.5 488.1 419.7 490.3 420.3 492.6 422.2 494.8 422.5 497.1 424.9 499.3 427.2 501.6 425.9 503.9 405.4 506.1 389.1 508.4 427.2 510.6 427.2 512.9 427.2 515.1 316.5 517.4 427.2 519.6 427.2 521.9 427.2 524.1 427.2 526.4 427.2 528.7 427.2 530.9 427.2 533.2 427.2 535.4 427.2 537.7 427.2 539.9 427.2 542.2 427.2 544.4 427.2 546.7 427.2 548.9 427.2 551.2 427.2 553.5 427.2"/>
<path stroke="#9467bd" d="M102.5 427.2 104.8 427.2 107.1 427.2 109.3 427.2 111.6 427.2 113.8 427.2 116.1 427.2 118.3 427.2 120.6 427.2 122.8 427.2 125.1 427.2 127.3 427.2 129.6 427.2 131.9 427.2 134.1 427.2 136.4 427.2 138.6 427.2 140.9 427.2 143.1 427.2 145.4 427.1 147.6 426.1 149.9 424.9 152.1 425.8 154.4 426.9 156.7 426.8 158.9 426.8 161.2 426.7 163.4 426.5 165.7 426.2 167.9 425.8 170.2 425.6 172.4 425.7 174.7 425.6 176.9 425.1 179.2 422.5 181.5 420.0 183.7 418.7 186.0 417.0 188.2 419.6 190.5 420.8 192.7 421.0 195.0 419.1 197.2 419.2 199.5 418.9 201.7 418.7 204.0 419.9 206.3 420.5 208.5 418.8 210.8 417.7 213.0 416.6 215.3 415.3 217.5 415.9 219.8 415.5 222.0 411.1 224.3 412.7 226.5 416.2 228.8 417.6 231.1 416.8 233.3 415.0 235.6 412.1 237.8 408.3 240.1 413.5 242.3 414.8 244.6 415.1 246.8 414.9 249.1 415.6 251.3 415.7 253.6 411.9 255.9 411.6 258.1 410.3 260.4 412.6 262.6 411.6 264.9 412.2 267.1 416.1 269.4 414.5 271.6 410.6 273.9 412.7 276.1 416.2 278.4 415.2 280.7 415.4 282.9 412.9 285.2 409.3 287.4 410.4 289.7 406.7 291.9 411.2 294.2 413.0 296.4 409.1 298.7 407.4 300.9 404.6 303.2 400.1 305.5 404.1 307.7 409.6 310.0 415.6 312.2 413.7 314.5 409.6 316.7 409.6 319.0 410.3 321.2 411.6 323.5 407.2 325.7 404.7 328.0 408.0 330.3 408.5 332.5 408.6 334.8 408.9 337.0 411.8 339.3 413.8 341.5 412.3 343.8 412.6 346.0 415.3 348.3 413.2 350.5 411.6 352.8 410.5 355.1 411.8 357.3 410.6 359.6 412.3 361.8 414.1 364.1 410.9 366.3 408.3 368.6 411.3 370.8 415.8 373.1 416.3 375.3 415.4 377.6 414.9 379.9 409.8 382.1 414.4 384.4 415.5 386.6 413.3 388.9 416.4 391.1 418.9 393.4 418.0 395.6 418.7 397.9 419.1 400.1 419.8 402.4 419.0 404.7 417.9 406.9 417.4 409.2 418.8 411.4 418.9 413.7 419.1 415.9 418.5 418.2 419.7 420.4 420.5 422.7 419.2 424.9 419.7 427.2 419.3 429.5 419.6 431.7 418.6 434.0 419.2 436.2 419.2 438.5 418.1 440.7 416.9 443.0 417.0 445.2 418.4 447.5 420.6 449.7 420.2 452.0 421.6 454.3 421.2 456.5 418.5 458.8 416.8 461.0 415.0 463.3 415.9 465.5 415.8 467.8 417.7 470.0 416.9 472.3 415.6 474.5 417.4 476.8 418.6 479.1 419.7 481.3 420.7 483.6 421.3 485.8 420.9 488.1 418.6 490.3 419.0 492.6 421.0 494.8 422.1 497.1 424.7 499.3 427.2 501.6 425.9 503.9 398.9 506.1 412.0 508.4 427.2 510.6 427.2 512.9 427.2 515.1 368.5 517.4 427.2 519.6 427.2 521.9 427.2 524.1 427.2 526.4 427.2 528.7 427.2 530.9 427.2 533.2 427.2 535.4 427.2 537.7 427.2 539.9 427.2 542.2 427.2 544.4 427.2 546.7 427.2 548.9 427.2 551.2 427.2 553.5 427.2"/>
<path stroke="#8c564b" d="M102.5 427.2 104.8 427.2 107.1 427.2 109.3 427.2 111.6 427.2 113.8 427.2 116.1 427.2 118.3 427.2 120.6 427.2 122.8 427.2 125.1 427.2 127.3 427.2 129.6 427.2 131.9 427.2 134.1 427.2 136.4 427.2 138.6 427.2 140.9 427.2 143.1 427.2 145.4 427.1 147.6 425.5 149.9 423.8 152.1 425.2 154.4 427.0 156.7 426.9 158.9 426.9 161.2 426.8 163.4 426.8 165.7 426.6 167.9 426.4 170.2 426.4 172.4 426.4 174.7 426.1 176.9 425.4 179.2 424.4 181.5 424.2 183.7 423.8 186.0 424.0 188.2 424.7 190.5 424.7 192.7 423.9 195.0 423.2 197.2 423.4 199.5 422.5 201.7 422.4 204.0 423.0 206.3 423.7 208.5 422.8 210.8 422.3 213.0 423.0 215.3 422.8 217.5 419.2 219.8 419.6 222.0 420.2 224.3 418.6 226.5 418.5 228.8 419.3 231.1 419.5 233.3 418.7 235.6 418.0 237.8 418.9 240.1 419.4 242.3 419.7 244.6 421.5 246.8 420.1 249.1 419.3 251.3 419.0 253.6 418.5 255.9 418.1 258.1 417.9 260.4 417.9 262.6 417.7 264.9 417.5 267.1 417.5 269.4 416.5 271.6 418.9 273.9 417.8 276.1 417.4 278.4 418.8 280.7 418.1 282.9 415.8 285.2 417.4 287.4 419.5 289.7 420.6 291.9 417.9 294.2 416.8 296.4 415.8 298.7 413.9 300.9 415.9 303.2 416.3 305.5 417.5 307.7 417.6 310.0 417.2 312.2 415.3 314.5 415.7 316.7 417.9 319.0 417.6 321.2 416.0 323.5 417.5 325.7 416.0 328.0 414.1 330.3 415.4 332.5 415.9 334.8 415.1 337.0 416.7 339.3 417.9 341.5 417.5 343.8 415.5 346.0 415.5 348.3 415.5 350.5 417.6 352.8 417.9 355.1 417.9 357.3 417.8 359.6 418.8 361.8 417.3 364.1 417.3 366.3 419.8 368.6 422.0 370.8 421.0 373.1 417.8 375.3 418.4 377.6 419.2 379.9 419.4 382.1 419.5 384.4 421.4 386.6 422.1 388.9 421.7 391.1 420.1 393.4 419.5 395.6 420.3 397.9 421.6 400.1 422.2 402.4 421.2 404.7 421.9 406.9 421.8 409.2 422.0 411.4 422.5 413.7 423.1 415.9 423.6 418.2 424.0 420.4 423.3 422.7 423.1 424.9 423.0 427.2 423.9 429.5 422.6 431.7 422.8 434.0 423.6 436.2 424.1 438.5 424.2 440.7 423.8 443.0 422.4 445.2 422.6 447.5 422.5 449.7 422.3 452.0 422.8 454.3 422.7 456.5 422.2 458.8 421.5 461.0 422.4 463.3 422.7 465.5 422.2 467.8 422.1 470.0 421.3 472.3 422.8 474.5 422.2 476.8 422.3 479.1 423.7 481.3 422.9 483.6 422.7 485.8 422.7 488.1 423.6 490.3 423.3 492.6 424.4 494.8 424.8 497.1 425.7 499.3 427.2 501.6 426.0 503.9 403.3 506.1 380.1 508.4 427.2 510.6 427.2 512.9 427.2 515.1 287.0 517.4 427.2 519.6 427.2 521.9 427.2 524.1 427.2 526.4 427.2 528.7 427.2 530.9 427.2 533.2 427.2 535.4 427.2 537.7 427.2 539.9 427.2 542.2 427.2 544.4 427.2 546.7 427.2 548.9 427.2 551.2 427.2 553.5 427.2"/>
<path stroke="#e377c2" d="M102.5 427.2 104.8 427.2 107.1 427.2 109.3 427.2 111.6 427.2 113.8 427.2 116.1 427.2 118.3 427.2 120.6 427.2 122.8 427.2 125.1 427.2 127.3 427.2 129.6 427.2 131.9 427.2 134.1 427.2 136.4 427.2 138.6 427.2 140.9 427.2 143.1 427.2 145.4 427.1 147.6 425.6 149.9 424.0 152.1 425.3 154.4 426.8 156.7 426.8 158.9 426.7 161.2 426.7 163.4 426.5 165.7 426.4 167.9 426.4 170.2 426.1 172.4 425.3 174.7 424.9 176.9 424.4 179.2 423.9 181.5 424.3 183.7 421.9 186.0 420.9 188.2 421.3 190.5 421.4 192.7 421.4 195.0 420.2 197.2 417.7 199.5 418.7 201.7 420.7 204.0 420.2 206.3 418.2 208.5 417.6 210.8 418.4 213.0 419.6 215.3 419.1 217.5 419.5 219.8 419.7 222.0 416.2 224.3 417.1 226.5 418.1 228.8 417.9 231.1 414.3 233.3 411.3 235.6 413.4 237.8 414.2 240.1 417.0 242.3 415.7 244.6 413.9 246.8 412.0 249.1 414.7 251.3 416.6 253.6 415.3 255.9 414.4 258.1 410.4 260.4 410.6 262.6 411.9 264.9 412.1 267.1 411.1 269.4 412.9 271.6 415.9 273.9 416.4 276.1 411.6 278.4 409.9 280.7 411.5 282.9 411.3 285.2 410.1 287.4 413.0 289.7 411.3 291.9 413.9 294.2 415.5 296.4 416.3 298.7 414.2 300.9 412.8 303.2 410.6 305.5 413.8 307.7 415.8 310.0 412.3 312.2 407.4 314.5 408.4 316.7 411.5 319.0 413.3 321.2 416.2 323.5 413.9 325.7 410.5 328.0 411.9 330.3 413.8 332.5 411.5 334.8 412.2 337.0 413.3 339.3 416.5 341.5 415.3 343.8 412.5 346.0 412.3 348.3 412.4 350.5 413.0 352.8 412.1 355.1 410.7 357.3 412.0 359.6 416.9 361.8 416.0 364.1 413.6 366.3 411.8 368.6 412.8 370.8 416.4 373.1 415.8 375.3 418.0 377.6 417.9 379.9 416.8 382.1 416.1 384.4 416.5 386.6 416.4 388.9 416.6 391.1 417.4 393.4 420.1 395.6 420.4 397.9 418.9 400.1 416.4 402.4 413.2 404.7 410.8 406.9 416.0 409.2 418.6 411.4 417.3 413.7 416.9 415.9 419.0 418.2 420.9 420.4 420.4 422.7 420.6 424.9 422.0 427.2 421.3 429.5 419.2 431.7 421.4 434.0 420.7 436.2 419.8 438.5 417.4 440.7 417.5 443.0 418.9 445.2 417.6 447.5 418.8 449.7 414.8 452.0 413.7 454.3 416.2 456.5 415.8 458.8 417.7 461.0 419.6 463.3 417.9 465.5 417.1 467.8 416.5 470.0 415.6 472.3 415.2 474.5 417.5 476.8 419.7 479.1 419.9 481.3 419.2 483.6 419.9 485.8 419.0 488.1 415.7 490.3 416.1 492.6 418.3 494.8 422.6 497.1 425.1 499.3 427.2 501.6 426.2 503.9 416.5 506.1 377.5 508.4 427.2 510.6 427.2 512.9 427.2 515.1 352.9 517.4 427.2 519.6 427.2 521.9 427.2 524.1 427.2 526.4 427.2 528.7 427.2 530.9 427.2 533.2 427.2 535.4 427.2 537.7 427.2 539.9 427.2 542.2 427.2 544.4 427.2 546.7 427.2 548.9 427.2 551.2 427.2 553.5 427.2"/>
<path stroke="#7f7f7f" d="M102.5 427.2 104.8 427.2 107.1 427.2 109.3 427.2 111.6 427.2 113.8 427.2 116.1 427.2 118.3 427.2 120.6 427.2 122.8 427.2 125.1 427.2 127.3 427.2 129.6 427.2 131.9 427.2 134.1 427.2 136.4 427.2 138.6 427.2 140.9 427.2 143.1 427.2 145.4 427.2 147.6 425.6 149.9 423.9 152.1 425.2 154.4 427.1 156.7 427.1 158.9 427.1 161.2 427.1 163.4 427.0 165.7 427.0 167.9 426.9 170.2 426.8 172.4 426.7 174.7 426.6 176.9 426.3 179.2 426.0 181.5 425.6 183.7 425.4 186.0 425.5 188.2 425.6 190.5 425.7 192.7 425.6 195.0 425.4 197.2 425.0 199.5 424.9 201.7 425.2 204.0 424.9 206.3 424.8 208.5 424.6 210.8 424.1 213.0 424.1 215.3 423.6 217.5 423.9 219.8 424.0 222.0 423.5 224.3 424.0 226.5 423.9 228.8 423.2 231.1 422.8 233.3 423.1 235.6 423.6 237.8 423.2 240.1 422.0 242.3 421.8 244.6 422.3 246.8 421.7 249.1 421.2 251.3 420.9 253.6 421.3 255.9 420.5 258.1 420.7 260.4 419.8 262.6 420.2 264.9 421.4 267.1 421.1 269.4 420.2 271.6 420.1 273.9 421.4 276.1 421.1 278.4 420.0 280.7 420.3 282.9 421.3 285.2 421.2 287.4 420.5 289.7 420.9 291.9 420.1 294.2 419.5 296.4 420.7 298.7 421.7 300.9 419.5 303.2 418.1 305.5 418.2 307.7 419.6 310.0 420.9 312.2 419.3 314.5 419.1 316.7 419.4 319.0 420.2 321.2 420.6 323.5 420.2 325.7 419.1 328.0 419.8 330.3 420.8 332.5 421.2 334.8 420.5 337.0 420.5 339.3 420.4 341.5 419.7 343.8 419.9 346.0 420.6 348.3 420.7 350.5 420.5 352.8 420.0 355.1 420.1 357.3 420.9 359.6 421.5 361.8 420.6 364.1 420.5 366.3 421.6 368.6 421.4 370.8 422.1 373.1 422.8 375.3 421.9 377.6 421.3 379.9 422.2 382.1 422.3 384.4 421.9 386.6 422.9 388.9 423.2 391.1 422.9 393.4 422.7 395.6 423.0 397.9 423.9 400.1 424.2 402.4 424.4 404.7 424.9 406.9 425.2 409.2 425.2 411.4 425.0 413.7 425.0 415.9 424.5 418.2 425.2 420.4 425.7 422.7 425.7 424.9 425.6 427.2 425.6 429.5 425.6 431.7 425.6 434.0 425.8 436.2 425.5 438.5 425.2 440.7 425.7 443.0 425.7 445.2 425.5 447.5 425.4 449.7 425.3 452.0 425.3 454.3 425.5 456.5 425.5 458.8 425.4 461.0 425.3 463.3 425.1 465.5 425.3 467.8 425.9 470.0 425.7 472.3 426.0 474.5 426.2 476.8 425.9 479.1 425.9 481.3 426.0 483.6 426.1 485.8 426.1 488.1 425.9 490.3 426.1 492.6 426.1 494.8 426.3 497.1 426.8 499.3 427.2 501.6 426.1 503.9 401.4 506.1 401.1 508.4 427.2 510.6 427.2 512.9 427.2 515.1 319.4 517.4 427.2 519.6 427.2 521.9 427.2 524.1 427.2 526.4 427.2 528.7 427.2 530.9 427.2 533.2 427.2 535.4 427.2 537.7 427.2 539.9 427.2 542.2 427.2 544.4 427.2 546.7 427.2 548.9 427.2 551.2 427.2 553.5 427.2"/>
<path stroke="#bcbd22" d="M102.5 427.2 104.8 427.2 107.1 427.2 109.3 427.2 111.6 427.2 113.8 427.2 116.1 427.2 118.3 427.2 120.6 427.2 122.8 427.2 125.1 427.2 127.3 427.2 129.6 427.2 131.9 427.2 134.1 427.2 136.4 427.2 138.6 427.2 140.9 427.2 143.1 427.2 145.4 427.2 147.6 425.9 149.9 424.5 152.1 425.6 154.4 427.0 156.7 426.9 158.9 426.8 161.2 426.8 163.4 426.7 165.7 426.7 167.9 426.7 170.2 426.4 172.4 426.2 174.7 425.9 176.9 425.9 179.2 425.2 181.5 423.8 183.7 423.1 186.0 423.2 188.2 423.3 190.5 422.7 192.7 421.1 195.0 420.4 197.2 422.2 199.5 421.3 201.7 421.6 204.0 421.4 206.3 421.0 208.5 421.5 210.8 420.7 213.0 421.6 215.3 421.3 217.5 420.1 219.8 416.8 222.0 415.6 224.3 417.6 226.5 418.7 228.8 418.9 231.1 416.1 233.3 415.8 235.6 417.2 237.8 418.2 240.1 418.8 242.3 417.8 244.6 416.6 246.8 418.5 249.1 417.3 251.3 414.4 253.6 413.8 255.9 413.6 258.1 415.1 260.4 414.9 262.6 413.3 264.9 414.4 267.1 415.4 269.4 416.8 271.6 417.5 273.9 414.7 276.1 416.5 278.4 416.7 280.7 415.8 282.9 417.6 285.2 418.6 287.4 417.4 289.7 416.0 291.9 415.0 294.2 414.5 296.4 414.7 298.7 415.6 300.9 415.1 303.2 414.9 305.5 416.0 307.7 415.4 310.0 414.3 312.2 410.9 314.5 413.0 316.7 415.9 319.0 415.4 321.2 415.1 323.5 414.2 325.7 418.0 328.0 418.1 330.3 417.1 332.5 416.0 334.8 416.9 337.0 419.3 339.3 419.6 341.5 416.3 343.8 412.3 346.0 413.3 348.3 416.2 350.5 416.2 352.8 417.3 355.1 417.7 357.3 414.6 359.6 415.7 361.8 417.4 364.1 416.5 366.3 414.5 368.6 416.2 370.8 417.7 373.1 417.3 375.3 417.8 377.6 418.8 379.9 418.6 382.1 416.9 384.4 418.5 386.6 418.8 388.9 415.4 391.1 415.3 393.4 418.1 395.6 419.7 397.9 420.5 400.1 421.5 402.4 420.7 404.7 420.4 406.9 420.3 409.2 420.3 411.4 421.2 413.7 421.6 415.9 422.9 418.2 422.6 420.4 423.0 422.7 423.5 424.9 422.9 427.2 422.4 429.5 422.2 431.7 421.3 434.0 422.3 436.2 421.6 438.5 421.4 440.7 421.5 443.0 420.5 445.2 422.3 447.5 422.0 449.7 421.3 452.0 421.0 454.3 422.5 456.5 422.6 458.8 422.3 461.0 421.9 463.3 421.8 465.5 421.7 467.8 422.1 470.0 422.8 472.3 423.2 474.5 422.8 476.8 421.8 479.1 421.6 481.3 422.1 483.6 421.9 485.8 422.7 488.1 421.9 490.3 422.5 492.6 423.3 494.8 424.7 497.1 426.0 499.3 427.2 501.6 424.2 503.9 379.0 506.1 395.2 508.4 427.2 510.6 427.2 512.9 427.2 515.1 317.1 517.4 427.2 519.6 427.2 521.9 427.2 524.1 427.2 526.4 427.2 528.7 427.2 530.9 427.2 533.2 427.2 535.4 427.2 537.7 427.2 539.9 427.2 542.2 427.2 544.4 427.2 546.7 427.2 548.9 427.2 551.2 427.2 553.5 427.2"/>
<path stroke="#17becf" d="M102.5 427.2 104.8 427.2 107.1 427.2 109.3 427.2 111.6 427.2 113.8 427.2 116.1 427.2 118.3 427.2 120.6 427.2 122.8 427.2 125.1 427.2 127.3 427.2 129.6 427.2 131.9 427.2 134.1 427.2 136.4 427.2 138.6 427.2 140.9 427.2 143.1 427.2 145.4 427.1 147.6 426.5 149.9 425.9 152.1 426.4 154.4 426.8 156.7 426.8 158.9 426.6 161.2 426.5 163.4 426.4 165.7 426.3 167.9 425.7 170.2 425.3 172.4 425.1 174.7 425.1 176.9 424.9 179.2 423.3 181.5 422.5 183.7 419.6 186.0 419.2 188.2 421.2 190.5 421.3 192.7 420.7 195.0 420.2 197.2 416.5 199.5 417.0 201.7 420.1 204.0 418.9 206.3 415.6 208.5 416.7 210.8 419.6 213.0 420.9 215.3 419.2 217.5 413.7 219.8 415.0 222.0 417.1 224.3 415.5 226.5 416.4 228.8 417.1 231.1 416.9 233.3 415.7 235.6 413.0 237.8 415.4 240.1 415.0 242.3 410.3 244.6 410.5 246.8 413.8 249.1 408.8 251.3 410.7 253.6 414.2 255.9 411.4 258.1 414.1 260.4 412.7 262.6 415.2 264.9 415.9 267.1 410.5 269.4 408.3 271.6 410.8 273.9 411.4 276.1 412.2 278.4 412.8 280.7 414.2 282.9 411.3 285.2 411.7 287.4 412.6 289.7 413.0 291.9 413.5 294.2 415.5 296.4 415.1 298.7 413.6 300.9 409.6 303.2 411.2 305.5 412.2 307.7 411.6 310.0 409.9 312.2 408.6 314.5 407.4 316.7 404.3 319.0 409.6 321.2 408.4 323.5 403.8 325.7 411.2 328.0 409.8 330.3 410.7 332.5 414.4 334.8 413.5 337.0 412.2 339.3 415.3 341.5 413.1 343.8 409.6 346.0 412.0 348.3 412.6 350.5 413.7 352.8 413.0 355.1 413.2 357.3 412.6 359.6 412.2 361.8 411.0 364.1 405.0 366.3 407.5 368.6 409.8 370.8 407.8 373.1 412.9 375.3 415.5 377.6 415.3 379.9 415.8 382.1 412.3 384.4 409.0 386.6 411.2 388.9 414.7 391.1 414.7 393.4 414.0 395.6 414.3 397.9 417.1 400.1 416.8 402.4 414.2 404.7 415.3 406.9 415.0 409.2 415.4 411.4 417.4 413.7 417.1 415.9 416.1 418.2 418.4 420.4 419.0 422.7 418.3 424.9 416.6 427.2 414.0 429.5 418.0 431.7 417.1 434.0 414.9 436.2 417.8 438.5 418.9 440.7 419.2 443.0 415.7 445.2 414.7 447.5 416.7 449.7 417.6 452.0 416.5 454.3 415.4 456.5 414.1 458.8 415.5 461.0 417.1 463.3 419.9 465.5 420.2 467.8 421.7 470.0 419.1 472.3 416.8 474.5 417.4 476.8 415.6 479.1 419.7 481.3 420.1 483.6 420.4 485.8 419.8 488.1 419.7 490.3 420.8 492.6 420.9 494.8 420.0 497.1 424.2 499.3 427.2 501.6 423.1 503.9 405.9 506.1 394.3 508.4 427.2 510.6 427.2 512.9 427.2 515.1 370.9 517.4 427.2 519.6 427.2 521.9 427.2 524.1 427.2 526.4 427.2 528.7 427.2 530.9 427.2 533.2 427.2 535.4 427.2 537.7 427.2 539.9 427.2 542.2 427.2 544.4 427.2 546.7 427.2 548.9 427.2 551.2 427.2 553.5 427.2"/>
<path stroke="#1f77b4" d="M102.5 427.2 104.8 427.2 107.1 427.2 109.3 427.2 111.6 427.2 113.8 427.2 116.1 427.2 118.3 427.2 120.6 427.2 122.8 427.2 125.1 427.2 127.3 427.2 129.6 427.2 131.9 427.2 134.1 427.2 136.4 427.2 138.6 427.2 140.9 427.2 143.1 427.2 145.4 427.1 147.6 426.6 149.9 426.0 152.1 426.5 154.4 427.0 156.7 426.9 158.9 426.9 161.2 426.6 163.4 426.4 165.7 426.4 167.9 426.1 170.2 425.7 172.4 425.4 174.7 424.9 176.9 424.8 179.2 423.4 181.5 422.3 183.7 422.0 186.0 421.0 188.2 420.4 190.5 419.0 192.7 417.4 195.0 416.6 197.2 420.7 199.5 421.6 201.7 422.6 204.0 422.3 206.3 421.8 208.5 418.6 210.8 418.1 213.0 419.8 215.3 418.0 217.5 415.2 219.8 413.6 222.0 415.1 224.3 417.4 226.5 417.6 228.8 416.4 231.1 416.9 233.3 418.7 235.6 418.9 237.8 416.0 240.1 417.3 242.3 416.9 244.6 415.2 246.8 415.4 249.1 414.8 251.3 416.8 253.6 415.6 255.9 418.0 258.1 418.6 260.4 417.3 262.6 415.4 264.9 416.5 267.1 416.3 269.4 412.2 271.6 415.0 273.9 415.0 276.1 414.3 278.4 414.4 280.7 413.8 282.9 412.9 285.2 413.5 287.4 412.5 289.7 415.0 291.9 416.0 294.2 415.3 296.4 416.3 298.7 414.5 300.9 414.0 303.2 413.1 305.5 411.8 307.7 414.7 310.0 418.8 312.2 415.7 314.5 412.5 316.7 412.8 319.0 415.5 321.2 416.4 323.5 414.1 325.7 414.3 328.0 418.0 330.3 417.9 332.5 417.3 334.8 418.8 337.0 416.8 339.3 414.7 341.5 416.0 343.8 415.2 346.0 416.0 348.3 414.3 350.5 411.9 352.8 409.6 355.1 411.8 357.3 411.8 359.6 414.6 361.8 415.2 364.1 411.9 366.3 414.2 368.6 413.8 370.8 410.0 373.1 413.3 375.3 416.9 377.6 416.8 379.9 417.1 382.1 417.4 384.4 418.3 386.6 417.4 388.9 418.6 391.1 416.9 393.4 416.6 395.6 415.8 397.9 415.7 400.1 420.3 402.4 421.1 404.7 420.9 406.9 419.5 409.2 417.7 411.4 419.1 413.7 420.7 415.9 421.7 418.2 421.8 420.4 421.5 422.7 421.6 424.9 422.3 427.2 421.1 429.5 419.5 431.7 420.1 434.0 421.7 436.2 420.3 438.5 419.2 440.7 419.7 443.0 421.6 445.2 422.1 447.5 421.5 449.7 421.9 452.0 421.3 454.3 417.6 456.5 416.1 458.8 416.9 461.0 417.1 463.3 419.1 465.5 420.6 467.8 418.8 470.0 419.1 472.3 418.8 474.5 418.1 476.8 419.1 479.1 418.9 481.3 420.2 483.6 421.5 485.8 421.5 488.1 421.3 490.3 422.1 492.6 422.3 494.8 423.4 497.1 425.6 499.3 427.2 501.6 424.4 503.9 408.9 506.1 376.9 508.4 427.2 510.6 427.2 512.9 427.2 515.1 360.4 517.4 427.2 519.6 427.2 521.9 427.2 524.1 427.2 526.4 427.2 528.7 427.2 530.9 427.2 533.2 427.2 535.4 427.2 537.7 427.2 539.9 427.2 542.2 427.2 544.4 427.2 546.7 427.2 548.9 427.2 551.2 427.2 553.5 427.2"/>
<path stroke="#ff7f0e" d="M102.5 427.2 104.8 427.2 107.1 427.2 109.3 427.2 111.6 427.2 113.8 427.2 116.1 427.2 118.3 427.2 120.6 427.2 122.8 427.2 125.1 427.2 127.3 427.2 129.6 427.2 131.9 427.2 134.1 427.2 136.4 427.2 138.6 427.2 140.9 427.2 143.1 427.2 145.4 427.1 147.6 425.5 149.9 423.7 152.1 425.1 154.4 426.7 156.7 426.7 158.9 426.7 161.2 426.4 163.4 426.0 165.7 426.0 167.9 425.3 170.2 425.4 172.4 425.7 174.7 425.7 176.9 425.4 179.2 424.5 181.5 422.6 183.7 419.4 186.0 419.0 188.2 420.5 190.5 421.1 192.7 420.8 195.0 420.8 197.2 419.8 199.5 415.6 201.7 417.9 204.0 419.6 206.3 417.0 208.5 414.6 210.8 417.2 213.0 417.7 215.3 418.8 217.5 417.9 219.8 410.4 222.0 405.7 224.3 415.8 226.5 417.9 228.8 412.4 231.1 411.2 233.3 412.5 235.6 411.9 237.8 413.6 240.1 413.2 242.3 412.3 244.6 413.8 246.8 413.3 249.1 413.5 251.3 412.5 253.6 413.6 255.9 416.6 258.1 414.7 260.4 415.5 262.6 415.7 264.9 415.4 267.1 410.8 269.4 410.4 271.6 411.0 273.9 407.7 276.1 408.8 278.4 412.6 280.7 415.8 282.9 411.9 285.2 412.1 287.4 411.9 289.7 410.0 291.9 412.0 294.2 411.8 296.4 410.1 298.7 410.3 300.9 410.8 303.2 403.6 305.5 402.5 307.7 404.9 310.0 410.4 312.2 408.7 314.5 405.7 316.7 408.2 319.0 410.7 321.2 411.8 323.5 412.5 325.7 413.8 328.0 413.3 330.3 411.0 332.5 412.6 334.8 414.7 337.0 411.9 339.3 406.8 341.5 408.7 343.8 415.3 346.0 414.7 348.3 411.0 350.5 410.7 352.8 409.9 355.1 410.8 357.3 412.2 359.6 414.4 361.8 411.7 364.1 412.9 366.3 410.8 368.6 407.4 370.8 409.5 373.1 412.7 375.3 414.1 377.6 415.6 379.9 415.4 382.1 413.3 384.4 410.4 386.6 412.7 388.9 412.6 391.1 412.4 393.4 414.5 395.6 416.2 397.9 415.2 400.1 415.3 402.4 416.0 404.7 418.4 406.9 419.3 409.2 415.2 411.4 414.0 413.7 417.2 415.9 418.0 418.2 418.4 420.4 419.4 422.7 417.5 424.9 416.4 427.2 415.8 429.5 416.8 431.7 419.9 434.0 418.9 436.2 418.7 438.5 416.0 440.7 413.5 443.0 414.4 445.2 415.0 447.5 412.2 449.7 416.7 452.0 418.0 454.3 415.4 456.5 416.5 458.8 411.9 461.0 412.6 463.3 413.6 465.5 413.8 467.8 416.6 470.0 419.6 472.3 419.0 474.5 417.9 476.8 418.5 479.1 418.8 481.3 419.6 483.6 419.8 485.8 417.5 488.1 416.0 490.3 417.7 492.6 421.5 494.8 422.8 497.1 423.8 499.3 427.2 501.6 426.8 503.9 398.4 506.1 395.7 508.4 427.2 510.6 427.2 512.9 427.2 515.1 356.7 517.4 427.2 519.6 427.2 521.9 427.2 524.1 427.2 526.4 427.2 528.7 427.2 530.9 427.2 533.2 427.2 535.4 427.2 537.7 427.2 539.9 427.2 542.2 427.2 544.4 427.2 546.7 427.2 548.9 427.2 551.2 427.2 553.5 427.2"/>
<path stroke="#2ca02c" d="M102.5 427.2 104.8 427.2 107.1 427.2 109.3 427.2 111.6 427.2 113.8 427.2 116.1 427.2 118.3 427.2 120.6 427.2 122.8 427.2 125.1 427.2 127.3 427.2 129.6 427.2 131.9 427.2 134.1 427.2 136.4 427.2 138.6 427.2 140.9 427.2 143.1 427.2 145.4 426.6 147.6 420.7 149.9 415.5 152.1 419.1 154.4 425.6 156.7 426.6 158.9 426.9 161.2 426.7 163.4 426.6 165.7 426.3 167.9 425.9 170.2 425.9 172.4 425.9 174.7 425.6 176.9 425.7 179.2 424.7 181.5 424.2 183.7 423.8 186.0 423.6 188.2 423.3 190.5 421.3 192.7 420.2 195.0 420.1 197.2 419.8 199.5 421.0 201.7 422.2 204.0 422.2 206.3 420.3 208.5 418.6 210.8 418.4 213.0 420.2 215.3 420.4 217.5 420.0 219.8 417.3 222.0 416.5 224.3 417.7 226.5 418.5 228.8 418.7 231.1 418.3 233.3 417.3 235.6 418.2 237.8 416.3 240.1 417.1 242.3 419.1 244.6 419.8 246.8 418.8 249.1 417.9 251.3 418.3 253.6 415.3 255.9 413.7 258.1 415.4 260.4 418.9 262.6 419.2 264.9 414.5 267.1 411.7 269.4 413.7 271.6 414.3 273.9 415.7 276.1 416.0 278.4 413.7 280.7 415.3 282.9 412.9 285.2 411.3 287.4 413.0 289.7 412.0 291.9 415.4 294.2 414.4 296.4 413.7 298.7 410.0 300.9 413.5 303.2 414.0 305.5 412.4 307.7 416.5 310.0 415.9 312.2 414.6 314.5 411.6 316.7 413.2 319.0 413.5 321.2 415.2 323.5 417.8 325.7 418.1 328.0 413.0 330.3 414.2 332.5 416.8 334.8 415.8 337.0 415.0 339.3 416.6 341.5 412.3 343.8 414.5 346.0 415.7 348.3 413.5 350.5 414.9 352.8 415.6 355.1 413.3 357.3 413.2 359.6 414.8 361.8 417.7 364.1 417.3 366.3 414.9 368.6 417.6 370.8 419.9 373.1 418.4 375.3 416.7 377.6 417.4 379.9 415.8 382.1 417.1 384.4 418.1 386.6 419.6 388.9 419.4 391.1 418.1 393.4 417.8 395.6 418.3 397.9 419.0 400.1 421.4 402.4 420.4 404.7 420.4 406.9 420.9 409.2 420.4 411.4 420.5 413.7 420.2 415.9 420.9 418.2 421.2 420.4 421.8 422.7 420.3 424.9 420.0 427.2 419.2 429.5 420.8 431.7 421.6 434.0 421.8 436.2 422.5 438.5 422.6 440.7 421.2 443.0 420.9 445.2 421.7 447.5 422.3 449.7 422.1 452.0 421.2 454.3 420.8 456.5 417.8 458.8 418.9 461.0 420.2 463.3 422.0 465.5 420.9 467.8 420.4 470.0 419.3 472.3 420.2 474.5 422.4 476.8 421.6 479.1 422.4 481.3 420.6 483.6 421.5 485.8 422.2 488.1 420.7 490.3 421.1 492.6 423.3 494.8 424.2 497.1 425.5 499.3 427.2 501.6 422.4 503.9 384.5 506.1 403.3 508.4 427.2 510.6 427.2 512.9 427.2 515.1 317.0 517.4 427.2 519.6 427.2 521.9 427.2 524.1 427.2 526.4 427.2 528.7 427.2 530.9 427.2 533.2 427.2 535.4 427.2 537.7 427.2 539.9 427.2 542.2 427.2 544.4 427.2 546.7 427.2 548.9 427.2 551.2 427.2 553.5 427.2"/>
<path stroke="#d62728" d="M102.5 427.2 104.8 427.2 107.1 427.2 109.3 427.2 111.6 427.2 113.8 427.2 116.1 427.2 118.3 427.2 120.6 427.2 122.8 427.2 125.1 427.2 127.3 427.2 129.6 427.2 131.9 427.2 134.1 427.2 136.4 427.2 138.6 427.2 140.9 427.2 143.1 427.2 145.4 427.2 147.6 425.8 149.9 424.4 152.1 425.5 154.4 427.1 156.7 427.0 158.9 427.0 161.2 427.0 163.4 426.8 165.7 426.4 167.9 426.5 170.2 426.5 172.4 426.4 174.7 426.2 176.9 425.9 179.2 425.9 181.5 425.3 183.7 423.8 186.0 423.3 188.2 423.6 190.5 423.6 192.7 424.1 195.0 423.5 197.2 424.1 199.5 424.2 201.7 423.5 204.0 423.7 206.3 423.3 208.5 422.6 210.8 422.8 213.0 421.2 215.3 419.3 217.5 420.6 219.8 420.2 222.0 420.5 224.3 422.3 226.5 422.4 228.8 421.7 231.1 422.3 233.3 421.1 235.6 420.1 237.8 419.3 240.1 418.8 242.3 418.3 244.6 419.1 246.8 417.9 249.1 418.1 251.3 418.5 253.6 418.6 255.9 418.2 258.1 419.0 260.4 417.5 262.6 416.9 264.9 419.1 267.1 419.7 269.4 418.9 271.6 418.1 273.9 417.3 276.1 415.9 278.4 413.6 280.7 414.7 282.9 417.1 285.2 418.8 287.4 419.1 289.7 416.9 291.9 416.7 294.2 418.1 296.4 418.5 298.7 419.1 300.9 420.3 303.2 418.0 305.5 416.9 307.7 418.3 310.0 419.2 312.2 417.6 314.5 415.6 316.7 413.9 319.0 415.1 321.2 416.6 323.5 418.2 325.7 419.6 328.0 419.5 330.3 419.6 332.5 418.1 334.8 416.1 337.0 416.0 339.3 416.9 341.5 417.5 343.8 416.9 346.0 419.0 348.3 420.5 350.5 418.9 352.8 418.4 355.1 420.1 357.3 420.3 359.6 421.4 361.8 419.8 364.1 417.3 366.3 418.1 368.6 417.5 370.8 418.8 373.1 420.6 375.3 421.1 377.6 419.2 379.9 419.2 382.1 420.9 384.4 420.2 386.6 419.0 388.9 420.4 391.1 420.8 393.4 422.5 395.6 422.4 397.9 421.7 400.1 422.9 402.4 423.6 404.7 423.7 406.9 423.3 409.2 423.6 411.4 422.9 413.7 422.0 415.9 422.0 418.2 423.1 420.4 422.4 422.7 423.0 424.9 423.7 427.2 423.1 429.5 421.8 431.7 421.7 434.0 423.0 436.2 423.6 438.5 423.2 440.7 423.0 443.0 423.0 445.2 422.7 447.5 422.6 449.7 423.9 452.0 423.7 454.3 423.4 456.5 422.0 458.8 421.4 461.0 422.1 463.3 423.5 465.5 423.3 467.8 422.7 470.0 423.0 472.3 423.2 474.5 423.5 476.8 423.7 479.1 423.9 481.3 423.8 483.6 424.5 485.8 424.4 488.1 424.4 490.3 424.0 492.6 424.6 494.8 424.8 497.1 425.9 499.3 427.2 501.6 426.0 503.9 395.0 506.1 396.7 508.4 427.2 510.6 427.2 512.9 427.2 515.1 289.0 517.4 427.2 519.6 427.2 521.9 427.2 524.1 427.2 526.4 427.2 528.7 427.2 530.9 427.2 533.2 427.2 535.4 427.2 537.7 427.2 539.9 427.2 542.2 427.2 544.4 427.2 546.7 427.2 548.9 427.2 551.2 427.2 553.5 427.2"/>
<path stroke="#9467bd" d="M102.5 427.2 104.8 427.2 107.1 427.2 109.3 427.2 111.6 427.2 113.8 427.2 116.1 427.2 118.3 427.2 120.6 427.2 122.8 427.2 125.1 427.2 127.3 427.2 129.6 427.2 131.9 427.2 134.1 427.2 136.4 427.2 138.6 427.2 140.9 427.2 143.1 427.2 145.4 427.2 147.6 426.3 149.9 425.5 152.1 426.2 154.4 426.9 156.7 426.9 158.9 426.8 161.2 426.7 163.4 426.7 165.7 426.6 167.9 426.3 170.2 426.0 172.4 425.9 174.7 425.7 176.9 425.5 179.2 424.1 181.5 423.6 183.7 422.7 186.0 421.4 188.2 422.6 190.5 421.9 192.7 420.1 195.0 420.0 197.2 419.7 199.5 421.4 201.7 422.2 204.0 422.0 206.3 421.9 208.5 421.4 210.8 420.6 213.0 418.8 215.3 418.6 217.5 419.3 219.8 418.6 222.0 411.0 224.3 402.9 226.5 411.0 228.8 419.7 231.1 419.4 233.3 417.7 235.6 419.7 237.8 419.6 240.1 418.5 242.3 418.7 244.6 418.1 246.8 416.8 249.1 415.6 251.3 416.1 253.6 415.2 255.9 413.2 258.1 413.0 260.4 416.7 262.6 419.0 264.9 417.7 267.1 414.3 269.4 415.2 271.6 416.8 273.9 415.7 276.1 412.7 278.4 414.3 280.7 416.6 282.9 417.3 285.2 416.2 287.4 410.1 289.7 413.2 291.9 415.0 294.2 415.3 296.4 414.9 298.7 417.5 300.9 418.5 303.2 415.8 305.5 412.6 307.7 410.5 310.0 414.9 312.2 416.2 314.5 415.6 316.7 416.6 319.0 416.9 321.2 415.4 323.5 415.0 325.7 415.8 328.0 413.9 330.3 414.6 332.5 415.3 334.8 416.0 337.0 415.3 339.3 414.9 341.5 414.9 343.8 416.0 346.0 415.6 348.3 416.5 350.5 415.3 352.8 412.0 355.1 411.6 357.3 416.1 359.6 418.3 361.8 416.2 364.1 413.3 366.3 413.6 368.6 413.2 370.8 417.8 373.1 414.9 375.3 413.5 377.6 415.5 379.9 417.3 382.1 414.5 384.4 413.3 386.6 414.4 388.9 417.5 391.1 417.7 393.4 416.8 395.6 418.6 397.9 420.3 400.1 420.6 402.4 420.2 404.7 421.2 406.9 419.5 409.2 420.0 411.4 421.4 413.7 420.0 415.9 419.2 418.2 421.3 420.4 422.9 422.7 422.4 424.9 421.5 427.2 422.7 429.5 421.8 431.7 417.5 434.0 417.5 436.2 394.8 438.5 414.2 440.7 418.2 443.0 420.1 445.2 422.7 447.5 423.4 449.7 422.6 452.0 422.6 454.3 420.6 456.5 420.0 458.8 422.8 461.0 422.0 463.3 421.3 465.5 421.4 467.8 420.5 470.0 419.9 472.3 418.3 474.5 417.3 476.8 420.9 479.1 423.0 481.3 423.2 483.6 422.9 485.8 421.0 488.1 420.4 490.3 420.5 492.6 421.7 494.8 422.2 497.1 424.7 499.3 427.2 501.6 422.8 503.9 412.2 506.1 379.6 508.4 427.2 510.6 427.2 512.9 427.2 515.1 345.4 517.4 427.2 519.6 427.2 521.9 427.2 524.1 427.2 526.4 427.2 528.7 427.2 530.9 427.2 533.2 427.2 535.4 427.2 537.7 427.2 539.9 427.2 542.2 427.2 544.4 427.2 546.7 427.2 548.9 427.2 551.2 427.2 553.5 427.2"/>
<path stroke="#8c564b" d="M102.5 427.2 104.8 427.2 107.1 427.2 109.3 427.2 111.6 427.2 113.8 427.2 116.1 427.2 118.3 427.2 120.6 427.2 122.8 427.2 125.1 427.2 127.3 427.2 129.6 427.2 131.9 427.2 134.1 427.2 136.4 427.2 138.6 427.2 140.9 427.2 143.1 427.2 145.4 427.2 147.6 426.4 149.9 425.6 152.1 426.3 154.4 427.0 156.7 427.0 158.9 427.0 161.2 426.9 163.4 426.9 165.7 426.7 167.9 426.4 170.2 426.3 172.4 426.4 174.7 426.2 176.9 426.1 179.2 425.8 181.5 425.3 183.7 423.8 186.0 423.0 188.2 424.1 190.5 424.6 192.7 423.7 195.0 422.4 197.2 423.9 199.5 424.1 201.7 423.8 204.0 423.3 206.3 423.7 208.5 423.1 210.8 423.1 213.0 423.0 215.3 422.8 217.5 421.6 219.8 421.9 222.0 421.6 224.3 420.4 226.5 419.8 228.8 418.1 231.1 419.6 233.3 420.5 235.6 419.6 237.8 416.2 240.1 417.8 242.3 419.7 244.6 419.8 246.8 419.9 249.1 419.2 251.3 419.9 253.6 419.7 255.9 418.4 258.1 416.7 260.4 416.7 262.6 417.3 264.9 419.1 267.1 420.8 269.4 419.1 271.6 418.2 273.9 417.0 276.1 415.3 278.4 417.1 280.7 419.9 282.9 418.9 285.2 418.2 287.4 417.3 289.7 418.5 291.9 420.2 294.2 419.8 296.4 419.7 298.7 420.3 300.9 418.8 303.2 417.1 305.5 416.2 307.7 418.0 310.0 419.0 312.2 418.1 314.5 417.1 316.7 416.9 319.0 419.5 321.2 419.8 323.5 414.8 325.7 416.0 328.0 416.8 330.3 415.2 332.5 418.8 334.8 419.7 337.0 419.1 339.3 418.5 341.5 418.6 343.8 417.7 346.0 418.2 348.3 417.1 350.5 418.1 352.8 419.8 355.1 419.4 357.3 419.9 359.6 419.7 361.8 418.4 364.1 415.7 366.3 418.7 368.6 420.8 370.8 420.3 373.1 420.1 375.3 417.8 377.6 417.8 379.9 418.0 382.1 420.1 384.4 420.9 386.6 420.6 388.9 421.8 391.1 422.0 393.4 422.0 395.6 422.3 397.9 423.4 400.1 423.4 402.4 421.8 404.7 422.8 406.9 422.7 409.2 422.2 411.4 422.5 413.7 423.6 415.9 423.6 418.2 422.5 420.4 422.5 422.7 422.8 424.9 423.2 427.2 424.6 429.5 424.1 431.7 424.3 434.0 424.9 436.2 424.2 438.5 423.5 440.7 423.7 443.0 424.5 445.2 424.1 447.5 423.9 449.7 423.8 452.0 423.2 454.3 422.3 456.5 421.6 458.8 422.0 461.0 421.3 463.3 423.0 465.5 423.2 467.8 423.0 470.0 423.6 472.3 423.7 474.5 423.7 476.8 425.1 479.1 425.0 481.3 422.8 483.6 422.9 485.8 423.3 488.1 423.4 490.3 423.7 492.6 424.9 494.8 425.5 497.1 426.3 499.3 427.2 501.6 424.7 503.9 404.5 506.1 411.2 508.4 427.2 510.6 427.2 512.9 427.2 515.1 399.5 517.4 427.2 519.6 427.2 521.9 427.2 524.1 427.2 526.4 427.2 528.7 427.2 530.9 427.2 533.2 427.2 535.4 427.2 537.7 427.2 539.9 427.2 542.2 427.2 544.4 427.2 546.7 427.2 548.9 427.2 551.2 427.2 553.5 427.2"/>
<path stroke="#e377c2" d="M102.5 427.2 104.8 427.2 107.1 427.2 109.3 427.2 111.6 427.2 113.8 427.2 116.1 427.2 118.3 427.2 120.6 427.2 122.8 427.2 125.1 427.2 127.3 427.2 129.6 427.2 131.9 427.2 134.1 427.2 136.4 427.2 138.6 427.2 140.9 427.2 143.1 427.2 145.4 427.2 147.6 426.4 149.9 425.5 152.1 426.2 154.4 427.1 156.7 427.1 158.9 427.0 161.2 426.9 163.4 426.8 165.7 426.5 167.9 426.4 170.2 426.2 172.4 426.1 174.7 426.1 176.9 426.0 179.2 424.8 181.5 424.7 183.7 424.9 186.0 424.3 188.2 424.1 190.5 422.7 192.7 421.8 195.0 420.5 197.2 420.8 199.5 423.4 201.7 424.4 204.0 423.9 206.3 423.3 208.5 424.1 210.8 423.0 213.0 421.4 215.3 422.0 217.5 421.7 219.8 421.3 222.0 418.3 224.3 418.3 226.5 421.3 228.8 421.5 231.1 420.2 233.3 419.4 235.6 419.2 237.8 418.3 240.1 417.5 242.3 416.5 244.6 416.1 246.8 418.3 249.1 419.4 251.3 418.1 253.6 414.6 255.9 415.8 258.1 416.1 260.4 414.8 262.6 413.7 264.9 413.6 267.1 417.4 269.4 416.6 271.6 415.5 273.9 416.1 276.1 418.3 278.4 419.5 280.7 418.8 282.9 418.5 285.2 417.4 287.4 415.3 289.7 416.1 291.9 418.6 294.2 418.7 296.4 417.2 298.7 415.6 300.9 416.4 303.2 416.7 305.5 418.8 307.7 418.8 310.0 418.6 312.2 417.1 314.5 417.3 316.7 418.7 319.0 418.9 321.2 417.9 323.5 417.6 325.7 416.1 328.0 416.9 330.3 417.3 332.5 416.8 334.8 418.3 337.0 417.5 339.3 418.3 341.5 417.5 343.8 418.6 346.0 420.0 348.3 420.4 350.5 418.4 352.8 417.3 355.1 418.4 357.3 416.0 359.6 418.4 361.8 419.1 364.1 415.8 366.3 416.8 368.6 418.1 370.8 420.6 373.1 417.4 375.3 418.0 377.6 419.2 379.9 419.4 382.1 420.0 384.4 418.5 386.6 418.4 388.9 419.5 391.1 420.9 393.4 421.7 395.6 420.9 397.9 420.5 400.1 421.2 402.4 422.0 404.7 422.4 406.9 421.0 409.2 420.4 411.4 422.1 413.7 422.6 415.9 421.5 418.2 423.7 420.4 423.6 422.7 423.2 424.9 422.6 427.2 423.6 429.5 424.5 431.7 424.3 434.0 423.7 436.2 423.8 438.5 424.0 440.7 423.9 443.0 424.3 445.2 424.4 447.5 424.2 449.7 423.9 452.0 423.4 454.3 423.1 456.5 421.9 458.8 423.4 461.0 422.7 463.3 422.2 465.5 421.0 467.8 421.8 470.0 423.6 472.3 423.1 474.5 422.6 476.8 422.6 479.1 423.2 481.3 423.5 483.6 422.7 485.8 423.2 488.1 423.5 490.3 423.3 492.6 424.4 494.8 425.2 497.1 425.9 499.3 427.2 501.6 426.2 503.9 403.9 506.1 380.1 508.4 427.2 510.6 427.2 512.9 427.2 515.1 340.8 517.4 427.2 519.6 427.2 521.9 427.2 524.1 427.2 526.4 427.2 528.7 427.2 530.9 427.2 533.2 427.2 535.4 427.2 537.7 427.2 539.9 427.2 542.2 427.2 544.4 427.2 546.7 427.2 548.9 427.2 551.2 427.2 553.5 427.2"/>
<path stroke="#7f7f7f" d="M102.5 427.2 104.8 427.2 107.1 427.2 109.3 427.2 111.6 427.2 113.8 427.2 116.1 427.2 118.3 427.2 120.6 427.2 122.8 427.2 125.1 427.2 127.3 427.2 129.6 427.2 131.9 427.2 134.1 427.2 136.4 427.2 138.6 427.2 140.9 427.2 143.1 427.2 145.4 427.2 147.6 425.4 149.9 423.6 152.1 425.0 154.4 427.1 156.7 427.0 158.9 427.0 161.2 427.0 163.4 426.9 165.7 426.9 167.9 426.7 170.2 426.3 172.4 426.4 174.7 426.3 176.9 426.1 179.2 425.5 181.5 425.4 183.7 425.3 186.0 424.4 188.2 424.0 190.5 424.2 192.7 424.2 195.0 424.4 197.2 424.5 199.5 424.3 201.7 424.6 204.0 424.4 206.3 424.3 208.5 423.5 210.8 422.6 213.0 422.4 215.3 421.6 217.5 421.7 219.8 422.4 222.0 422.6 224.3 422.3 226.5 422.4 228.8 421.6 231.1 422.5 233.3 422.8 235.6 422.5 237.8 422.3 240.1 421.3 242.3 421.3 244.6 420.9 246.8 420.6 249.1 421.8 251.3 420.8 253.6 419.2 255.9 418.6 258.1 419.4 260.4 419.8 262.6 418.2 264.9 416.9 267.1 414.6 269.4 414.7 271.6 417.7 273.9 417.4 276.1 418.7 278.4 419.5 280.7 418.1 282.9 418.0 285.2 420.3 287.4 418.5 289.7 418.5 291.9 416.9 294.2 417.8 296.4 418.2 298.7 417.2 300.9 417.5 303.2 415.7 305.5 418.8 307.7 419.9 310.0 419.9 312.2 418.2 314.5 417.8 316.7 417.1 319.0 416.7 321.2 416.9 323.5 416.6 325.7 417.2 328.0 418.8 330.3 419.9 332.5 419.8 334.8 418.7 337.0 419.8 339.3 420.6 341.5 420.4 343.8 419.5 346.0 419.2 348.3 419.9 350.5 420.2 352.8 419.5 355.1 421.1 357.3 420.1 359.6 418.8 361.8 418.8 364.1 418.0 366.3 418.7 368.6 419.3 370.8 420.1 373.1 420.5 375.3 419.8 377.6 420.1 379.9 422.0 382.1 422.2 384.4 422.6 386.6 422.4 388.9 422.4 391.1 422.1 393.4 421.9 395.6 421.3 397.9 421.6 400.1 423.1 402.4 423.3 404.7 423.2 406.9 423.7 409.2 424.1 411.4 424.5 413.7 423.7 415.9 424.1 418.2 424.9 420.4 425.2 422.7 425.1 424.9 424.6 427.2 424.9 429.5 425.1 431.7 424.6 434.0 424.0 436.2 423.7 438.5 423.6 440.7 423.9 443.0 424.0 445.2 424.0 447.5 424.0 449.7 424.1 452.0 424.6 454.3 424.5 456.5 424.1 458.8 423.8 461.0 424.6 463.3 424.7 465.5 423.6 467.8 423.4 470.0 424.5 472.3 424.4 474.5 424.1 476.8 424.5 479.1 424.6 481.3 425.1 483.6 424.8 485.8 423.9 488.1 423.2 490.3 423.9 492.6 425.6 494.8 426.1 497.1 426.5 499.3 427.2 501.6 424.0 503.9 346.2 506.1 352.7 508.4 427.2 510.6 427.2 512.9 427.2 515.1 396.4 517.4 427.2 519.6 427.2 521.9 427.2 524.1 427.2 526.4 427.2 528.7 427.2 530.9 427.2 533.2 427.2 535.4 427.2 537.7 427.2 539.9 427.2 542.2 427.2 544.4 427.2 546.7 427.2 548.9 427.2 551.2 427.2 553.5 427.2"/>
<path stroke="#bcbd22" d="M102.5 427.2 104.8 427.2 107.1 427.2 109.3 427.2 111.6 427.2 113.8 427.2 116.1 427.2 118.3 427.2 120.6 427.2 122.8 427.2 125.1 427.2 127.3 427.2 129.6 427.2 131.9 427.2 134.1 427.2 136.4 427.2 138.6 427.2 140.9 427.2 143.1 427.2 145.4 427.2 147.6 426.2 149.9 425.2 152.1 426.0 154.4 427.1 156.7 427.1 158.9 427.1 161.2 427.1 163.4 427.0 165.7 426.9 167.9 426.8 170.2 426.7 172.4 426.6 174.7 426.3 176.9 425.8 179.2 425.6 181.5 425.6 183.7 425.5 186.0 425.3 188.2 424.7 190.5 424.5 192.7 424.2 195.0 424.0 197.2 424.2 199.5 424.9 201.7 425.1 204.0 425.0 206.3 424.6 208.5 424.2 210.8 424.1 213.0 424.2 215.3 423.5 217.5 422.7 219.8 423.4 222.0 424.1 224.3 423.4 226.5 422.7 228.8 422.0 231.1 422.1 233.3 421.9 235.6 422.1 237.8 421.4 240.1 420.9 242.3 421.4 244.6 421.2 246.8 420.9 249.1 420.6 251.3 420.8 253.6 420.9 255.9 422.0 258.1 421.1 260.4 419.7 262.6 419.9 264.9 421.1 267.1 421.0 269.4 419.7 271.6 419.5 273.9 419.6 276.1 419.9 278.4 419.5 280.7 419.4 282.9 420.8 285.2 421.0 287.4 419.6 289.7 419.9 291.9 419.5 294.2 420.4 296.4 420.5 298.7 418.7 300.9 419.6 303.2 420.6 305.5 420.1 307.7 420.0 310.0 420.0 312.2 419.8 314.5 420.5 316.7 420.1 319.0 419.3 321.2 419.1 323.5 419.8 325.7 421.0 328.0 421.2 330.3 419.5 332.5 420.5 334.8 420.6 337.0 420.1 339.3 419.9 341.5 420.3 343.8 420.8 346.0 420.0 348.3 417.5 350.5 417.1 352.8 419.4 355.1 420.2 357.3 421.5 359.6 420.8 361.8 420.2 364.1 420.1 366.3 418.7 368.6 419.4 370.8 421.0 373.1 422.7 375.3 422.0 377.6 421.1 379.9 421.9 382.1 422.7 384.4 422.0 386.6 420.6 388.9 421.0 391.1 421.4 393.4 421.9 395.6 422.5 397.9 424.4 400.1 424.1 402.4 422.8 404.7 423.3 406.9 424.0 409.2 424.7 411.4 425.2 413.7 425.1 415.9 425.1 418.2 425.2 420.4 424.6 422.7 424.7 424.9 425.1 427.2 425.0 429.5 425.1 431.7 425.2 434.0 425.2 436.2 424.8 438.5 425.5 440.7 425.2 443.0 424.6 445.2 424.8 447.5 425.7 449.7 425.6 452.0 425.3 454.3 425.3 456.5 425.2 458.8 425.2 461.0 425.1 463.3 425.1 465.5 425.4 467.8 425.0 470.0 425.0 472.3 425.1 474.5 425.1 476.8 424.8 479.1 425.6 481.3 425.2 483.6 425.4 485.8 425.2 488.1 424.7 490.3 425.0 492.6 425.2 494.8 425.7 497.1 426.6 499.3 427.2 501.6 426.4 503.9 409.1 506.1 413.3 508.4 427.2 510.6 427.2 512.9 427.2 515.1 324.9 517.4 427.2 519.6 427.2 521.9 427.2 524.1 427.2 526.4 427.2 528.7 427.2 530.9 427.2 533.2 427.2 535.4 427.2 537.7 427.2 539.9 427.2 542.2 427.2 544.4 427.2 546.7 427.2 548.9 427.2 551.2 427.2 553.5 427.2"/>
<path stroke="#17becf" d="M102.5 427.2 104.8 427.2 107.1 427.2 109.3 427.2 111.6 427.2 113.8 427.2 116.1 427.2 118.3 427.2 120.6 427.2 122.8 427.2 125.1 427.2 127.3 427.2 129.6 427.2 131.9 427.2 134.1 427.2 136.4 427.2 138.6 427.2 140.9 427.2 143.1 427.2 145.4 427.1 147.6 425.7 149.9 424.2 152.1 425.4 154.4 426.8 156.7 426.6 158.9 426.5 161.2 426.5 163.4 426.3 165.7 425.8 167.9 424.9 170.2 424.7 172.4 425.1 174.7 425.2 176.9 424.9 179.2 423.3 181.5 422.5 183.7 419.4 186.0 415.3 188.2 417.2 190.5 418.3 192.7 417.8 195.0 414.4 197.2 413.2 199.5 413.6 201.7 418.2 204.0 419.5 206.3 419.0 208.5 418.3 210.8 416.2 213.0 415.9 215.3 415.8 217.5 412.8 219.8 409.7 222.0 410.5 224.3 414.3 226.5 413.7 228.8 411.8 231.1 411.5 233.3 414.6 235.6 416.0 237.8 413.0 240.1 414.3 242.3 413.8 244.6 412.2 246.8 410.2 249.1 411.9 251.3 411.6 253.6 411.5 255.9 411.7 258.1 408.6 260.4 409.7 262.6 408.0 264.9 409.9 267.1 414.5 269.4 415.5 271.6 416.6 273.9 410.9 276.1 408.8 278.4 410.3 280.7 411.7 282.9 411.2 285.2 411.5 287.4 409.8 289.7 409.6 291.9 409.9 294.2 404.9 296.4 406.7 298.7 407.9 300.9 398.8 303.2 398.2 305.5 399.0 307.7 404.8 310.0 410.6 312.2 410.7 314.5 412.1 316.7 409.9 319.0 406.8 321.2 410.8 323.5 412.2 325.7 403.8 328.0 398.6 330.3 403.1 332.5 410.7 334.8 408.9 337.0 411.6 339.3 411.0 341.5 406.0 343.8 403.5 346.0 410.4 348.3 412.5 350.5 412.8 352.8 409.5 355.1 411.1 357.3 410.6 359.6 409.4 361.8 409.9 364.1 408.0 366.3 406.2 368.6 405.9 370.8 407.7 373.1 414.2 375.3 415.5 377.6 411.5 379.9 407.9 382.1 405.1 384.4 405.0 386.6 403.6 388.9 409.2 391.1 412.2 393.4 412.2 395.6 416.1 397.9 416.4 400.1 413.9 402.4 413.3 404.7 412.4 406.9 412.0 409.2 409.5 411.4 413.9 413.7 415.9 415.9 411.0 418.2 415.9 420.4 416.3 422.7 417.6 424.9 421.4 427.2 418.7 429.5 412.2 431.7 413.9 434.0 415.7 436.2 413.1 438.5 410.6 440.7 415.7 443.0 415.9 445.2 415.7 447.5 415.5 449.7 417.5 452.0 418.9 454.3 417.2 456.5 412.3 458.8 411.9 461.0 414.2 463.3 418.8 465.5 418.3 467.8 416.3 470.0 413.2 472.3 413.9 474.5 417.2 476.8 418.6 479.1 417.7 481.3 416.7 483.6 413.6 485.8 410.6 488.1 414.8 490.3 416.1 492.6 413.2 494.8 418.0 497.1 423.3 499.3 427.2 501.6 424.8 503.9 396.1 506.1 411.1 508.4 427.2 510.6 427.2 512.9 427.2 515.1 296.6 517.4 427.2 519.6 427.2 521.9 427.2 524.1 427.2 526.4 427.2 528.7 427.2 530.9 427.2 533.2 427.2 535.4 427.2 537.7 427.2 539.9 427.2 542.2 427.2 544.4 427.2 546.7 427.2 548.9 427.2 551.2 427.2 553.5 427.2"/>
<path stroke="#1f77b4" d="M102.5 427.2 104.8 427.2 107.1 427.2 109.3 427.2 111.6 427.2 113.8 427.2 116.1 427.2 118.3 427.2 120.6 427.2 122.8 427.2 125.1 427.2 127.3 427.2 129.6 427.2 131.9 427.2 134.1 427.2 136.4 427.2 138.6 427.2 140.9 427.2 143.1 427.2 145.4 427.1 147.6 425.4 149.9 423.5 152.1 425.0 154.4 426.9 156.7 427.0 158.9 426.9 161.2 426.7 163.4 426.5 165.7 426.3 167.9 426.1 170.2 426.1 172.4 426.1 174.7 425.9 176.9 425.4 179.2 424.7 181.5 420.7 183.7 417.5 186.0 411.0 188.2 401.3 190.5 409.4 192.7 415.9 195.0 417.5 197.2 421.8 199.5 422.7 201.7 422.6 204.0 422.7 206.3 422.3 208.5 419.3 210.8 418.5 213.0 420.1 215.3 416.2 217.5 415.1 219.8 419.3 222.0 418.4 224.3 418.3 226.5 418.7 228.8 421.0 231.1 418.7 233.3 418.1 235.6 417.1 237.8 416.9 240.1 419.9 242.3 418.3 244.6 416.7 246.8 415.3 249.1 413.9 251.3 415.0 253.6 416.5 255.9 415.8 258.1 416.2 260.4 414.6 262.6 415.2 264.9 415.6 267.1 415.7 269.4 416.9 271.6 416.7 273.9 416.6 276.1 413.2 278.4 412.4 280.7 417.9 282.9 418.9 285.2 416.2 287.4 416.2 289.7 415.2 291.9 410.5 294.2 415.0 296.4 417.4 298.7 416.0 300.9 413.0 303.2 408.9 305.5 413.0 307.7 417.0 310.0 415.7 312.2 411.7 314.5 415.8 316.7 414.7 319.0 412.2 321.2 413.7 323.5 415.4 325.7 416.5 328.0 414.9 330.3 413.5 332.5 413.1 334.8 412.6 337.0 413.6 339.3 413.1 341.5 413.7 343.8 413.2 346.0 414.3 348.3 411.3 350.5 410.6 352.8 412.4 355.1 415.7 357.3 416.9 359.6 420.0 361.8 418.0 364.1 415.5 366.3 416.2 368.6 415.7 370.8 414.2 373.1 412.7 375.3 416.5 377.6 420.0 379.9 420.5 382.1 417.6 384.4 414.4 386.6 413.9 388.9 416.8 391.1 418.6 393.4 419.5 395.6 419.4 397.9 418.9 400.1 418.2 402.4 417.7 404.7 416.2 406.9 417.7 409.2 417.9 411.4 416.9 413.7 418.4 415.9 421.5 418.2 423.1 420.4 422.7 422.7 421.1 424.9 420.3 427.2 420.2 429.5 419.1 431.7 419.0 434.0 415.9 436.2 414.2 438.5 411.0 440.7 404.5 443.0 415.9 445.2 420.8 447.5 422.4 449.7 421.5 452.0 421.1 454.3 420.1 456.5 418.8 458.8 417.1 461.0 420.6 463.3 421.0 465.5 420.2 467.8 417.8 470.0 419.1 472.3 422.2 474.5 422.5 476.8 421.7 479.1 421.9 481.3 420.9 483.6 421.4 485.8 422.1 488.1 421.3 490.3 420.3 492.6 422.0 494.8 423.3 497.1 425.2 499.3 427.2 501.6 426.7 503.9 407.2 506.1 394.1 508.4 427.2 510.6 427.2 512.9 427.2 515.1 334.7 517.4 427.2 519.6 427.2 521.9 427.2 524.1 427.2 526.4 427.2 528.7 427.2 530.9 427.2 533.2 427.2 535.4 427.2 537.7 427.2 539.9 427.2 542.2 427.2 544.4 427.2 546.7 427.2 548.9 427.2 551.2 427.2 553.5 427.2"/>
<path stroke="#ff7f0e" d="M102.5 427.2 104.8 427.2 107.1 427.2 109.3 427.2 111.6 427.2 113.8 427.2 116.1 427.2 118.3 427.2 120.6 427.2 122.8 427.2 125.1 427.2 127.3 427.2 129.6 427.2 131.9 427.2 134.1 427.2 136.4 427.2 138.6 427.2 140.9 427.2 143.1 427.2 145.4 427.1 147.6 425.4 149.9 423.6 152.1 425.0 154.4 426.8 156.7 426.9 158.9 426.7 161.2 426.6 163.4 426.6 165.7 426.4 167.9 426.1 170.2 425.8 172.4 425.5 174.7 425.6 176.9 425.7 179.2 424.5 181.5 423.7 183.7 422.1 186.0 420.6 188.2 420.6 190.5 419.9 192.7 420.5 195.0 419.9 197.2 417.5 199.5 418.6 201.7 420.4 204.0 420.7 206.3 420.6 208.5 420.0 210.8 419.5 213.0 415.3 215.3 416.2 217.5 420.4 219.8 419.9 222.0 418.2 224.3 419.5 226.5 420.3 228.8 417.9 231.1 418.3 233.3 416.6 235.6 415.2 237.8 413.7 240.1 416.0 242.3 414.1 244.6 416.4 246.8 413.3 249.1 412.4 251.3 414.9 253.6 415.9 255.9 412.1 258.1 413.2 260.4 418.1 262.6 419.4 264.9 417.4 267.1 415.4 269.4 411.7 271.6 412.4 273.9 413.6 276.1 414.3 278.4 412.3 280.7 415.6 282.9 418.1 285.2 418.4 287.4 414.8 289.7 415.5 291.9 417.4 294.2 416.8 296.4 415.5 298.7 414.5 300.9 417.0 303.2 413.9 305.5 411.0 307.7 411.8 310.0 410.6 312.2 407.9 314.5 413.3 316.7 414.2 319.0 410.5 321.2 408.7 323.5 411.9 325.7 415.1 328.0 415.9 330.3 412.9 332.5 413.1 334.8 415.9 337.0 416.5 339.3 416.4 341.5 413.8 343.8 412.8 346.0 410.6 348.3 410.2 350.5 411.3 352.8 408.5 355.1 408.1 357.3 409.8 359.6 414.7 361.8 412.8 364.1 407.9 366.3 410.8 368.6 415.0 370.8 413.8 373.1 410.6 375.3 415.3 377.6 416.7 379.9 414.7 382.1 416.5 384.4 418.9 386.6 418.8 388.9 417.3 391.1 416.5 393.4 415.5 395.6 418.9 397.9 420.6 400.1 420.3 402.4 419.6 404.7 417.7 406.9 417.9 409.2 415.4 411.4 414.8 413.7 414.7 415.9 418.2 418.2 420.0 420.4 422.3 422.7 421.9 424.9 421.0 427.2 419.1 429.5 419.2 431.7 420.7 434.0 417.5 436.2 401.3 438.5 415.9 440.7 417.3 443.0 417.6 445.2 417.0 447.5 420.0 449.7 420.5 452.0 419.8 454.3 419.2 456.5 419.4 458.8 419.7 461.0 421.0 463.3 420.9 465.5 417.0 467.8 417.3 470.0 419.8 472.3 421.2 474.5 422.0 476.8 420.7 479.1 420.5 481.3 418.7 483.6 421.5 485.8 419.8 488.1 417.9 490.3 418.9 492.6 418.3 494.8 420.8 497.1 424.6 499.3 427.2 501.6 423.7 503.9 394.2 506.1 402.9 508.4 427.2 510.6 427.2 512.9 427.2 515.1 334.0 517.4 427.2 519.6 427.2 521.9 427.2 524.1 427.2 526.4 427.2 528.7 427.2 530.9 427.2 533.2 427.2 535.4 427.2 537.7 427.2 539.9 427.2 542.2 427.2 544.4 427.2 546.7 427.2 548.9 427.2 551.2 427.2 553.5 427.2"/>
<path stroke="#2ca02c" d="M102.5 427.2 104.8 427.2 107.1 427.2 109.3 427.2 111.6 427.2 113.8 427.2 116.1 427.2 118.3 427.2 120.6 427.2 122.8 427.2 125.1 427.2 127.3 427.2 129.6 427.2 131.9 427.2 134.1 427.2 136.4 427.2 138.6 427.2 140.9 427.2 143.1 427.2 145.4 426.6 147.6 414.2 149.9 401.9 152.1 412.6 154.4 424.0 156.7 426.6 158.9 427.2 161.2 427.1 163.4 427.1 165.7 427.0 167.9 426.9 170.2 426.9 172.4 426.8 174.7 426.6 176.9 426.4 179.2 426.4 181.5 426.3 183.7 425.9 186.0 425.7 188.2 425.5 190.5 425.7 192.7 425.7 195.0 425.6 197.2 425.8 199.5 425.8 201.7 425.4 204.0 424.9 206.3 424.7 208.5 424.8 210.8 424.7 213.0 424.5 215.3 424.4 217.5 424.3 219.8 423.9 222.0 423.9 224.3 423.6 226.5 422.9 228.8 423.0 231.1 423.1 233.3 422.7 235.6 422.6 237.8 422.4 240.1 422.9 242.3 423.0 244.6 422.8 246.8 421.4 249.1 420.4 251.3 420.6 253.6 421.1 255.9 421.4 258.1 421.5 260.4 421.1 262.6 421.5 264.9 421.7 267.1 420.5 269.4 420.0 271.6 420.4 273.9 421.0 276.1 421.2 278.4 420.8 280.7 421.0 282.9 421.6 285.2 421.5 287.4 421.3 289.7 420.4 291.9 421.5 294.2 421.8 296.4 421.4 298.7 420.8 300.9 420.6 303.2 419.0 305.5 420.1 307.7 421.8 310.0 420.9 312.2 420.5 314.5 421.3 316.7 420.9 319.0 420.8 321.2 421.1 323.5 420.8 325.7 420.7 328.0 421.0 330.3 421.2 332.5 421.5 334.8 420.9 337.0 421.0 339.3 419.8 341.5 418.7 343.8 419.4 346.0 421.0 348.3 421.1 350.5 421.2 352.8 421.1 355.1 421.9 357.3 422.1 359.6 421.9 361.8 421.8 364.1 420.7 366.3 420.7 368.6 421.4 370.8 421.9 373.1 421.9 375.3 421.4 377.6 421.9 379.9 421.8 382.1 421.2 384.4 422.1 386.6 422.8 388.9 422.8 391.1 422.6 393.4 423.4 395.6 423.7 397.9 423.5 400.1 423.5 402.4 424.1 404.7 425.1 406.9 425.1 409.2 425.3 411.4 425.5 413.7 425.9 415.9 425.8 418.2 425.6 420.4 425.9 422.7 426.2 424.9 425.9 427.2 425.9 429.5 426.0 431.7 426.1 434.0 426.1 436.2 425.9 438.5 426.1 440.7 426.3 443.0 426.1 445.2 425.7 447.5 425.7 449.7 425.9 452.0 426.0 454.3 425.8 456.5 425.6 458.8 425.8 461.0 425.8 463.3 425.7 465.5 425.7 467.8 425.8 470.0 426.0 472.3 426.2 474.5 426.1 476.8 425.9 479.1 425.7 481.3 425.9 483.6 425.9 485.8 426.0 488.1 426.1 490.3 426.0 492.6 426.2 494.8 426.6 497.1 426.9 499.3 427.2 501.6 424.6 503.9 352.7 506.1 333.0 508.4 427.2 510.6 427.2 512.9 427.2 515.1 303.6 517.4 427.2 519.6 427.2 521.9 427.2 524.1 427.2 526.4 427.2 528.7 427.2 530.9 427.2 533.2 427.2 535.4 427.2 537.7 427.2 539.9 427.2 542.2 427.2 544.4 427.2 546.7 427.2 548.9 427.2 551.2 427.2 553.5 427.2"/>
<path stroke="#d62728" d="M102.5 427.2 104.8 427.2 107.1 427.2 109.3 427.2 111.6 427.2 113.8 427.2 116.1 427.2 118.3 427.2 120.6 427.2 122.8 427.2 125.1 427.2 127.3 427.2 129.6 427.2 131.9 427.2 134.1 427.2 136.4 427.2 138.6 427.2 140.9 427.2 143.1 427.2 145.4 427.1 147.6 426.2 149.9 425.2 152.1 426.0 154.4 426.6 156.7 426.7 158.9 426.5 161.2 426.4 163.4 426.2 165.7 426.1 167.9 425.5 170.2 424.5 172.4 424.7 174.7 425.2 176.9 424.9 179.2 423.7 181.5 422.2 183.7 420.7 186.0 419.7 188.2 417.5 190.5 416.2 192.7 417.1 195.0 417.3 197.2 417.3 199.5 417.9 201.7 414.6 204.0 414.0 206.3 419.9 208.5 417.2 210.8 415.0 213.0 414.7 215.3 415.8 217.5 416.8 219.8 415.3 222.0 414.5 224.3 414.7 226.5 414.6 228.8 413.1 231.1 409.2 233.3 415.3 235.6 416.3 237.8 415.8 240.1 412.9 242.3 408.5 244.6 412.1 246.8 415.3 249.1 415.3 251.3 412.4 253.6 412.1 255.9 411.1 258.1 412.5 260.4 412.3 262.6 412.0 264.9 413.3 267.1 408.6 269.4 410.0 271.6 409.3 273.9 405.7 276.1 400.6 278.4 404.1 280.7 407.9 282.9 410.7 285.2 411.0 287.4 408.9 289.7 407.1 291.9 410.7 294.2 407.2 296.4 402.7 298.7 412.0 300.9 414.8 303.2 410.6 305.5 407.4 307.7 404.3 310.0 406.2 312.2 404.9 314.5 408.8 316.7 409.3 319.0 409.7 321.2 411.5 323.5 409.8 325.7 410.4 328.0 410.8 330.3 414.3 332.5 414.3 334.8 407.6 337.0 409.4 339.3 408.9 341.5 400.1 343.8 402.6 346.0 408.7 348.3 411.6 350.5 409.1 352.8 407.1 355.1 407.6 357.3 404.2 359.6 407.5 361.8 409.7 364.1 411.6 366.3 410.6 368.6 407.9 370.8 410.8 373.1 412.7 375.3 411.6 377.6 412.5 379.9 413.3 382.1 411.8 384.4 409.1 386.6 410.5 388.9 414.4 391.1 414.5 393.4 414.5 395.6 416.6 397.9 415.6 400.1 415.6 402.4 418.4 404.7 420.0 406.9 417.4 409.2 414.7 411.4 413.1 413.7 411.8 415.9 415.2 418.2 416.8 420.4 416.7 422.7 416.8 424.9 414.4 427.2 417.6 429.5 418.6 431.7 417.0 434.0 415.5 436.2 418.3 438.5 418.4 440.7 414.0 443.0 412.2 445.2 415.4 447.5 416.2 449.7 416.2 452.0 413.1 454.3 415.6 456.5 415.6 458.8 416.4 461.0 418.0 463.3 416.8 465.5 415.1 467.8 415.7 470.0 411.7 472.3 414.0 474.5 416.8 476.8 418.7 479.1 417.8 481.3 416.2 483.6 418.8 485.8 419.0 488.1 418.9 490.3 418.8 492.6 418.7 494.8 420.9 497.1 423.5 499.3 427.2 501.6 423.8 503.9 409.7 506.1 405.0 508.4 427.2 510.6 427.2 512.9 427.2 515.1 334.0 517.4 427.2 519.6 427.2 521.9 427.2 524.1 427.2 526.4 427.2 528.7 427.2 530.9 427.2 533.2 427.2 535.4 427.2 537.7 427.2 539.9 427.2 542.2 427.2 544.4 427.2 546.7 427.2 548.9 427.2 551.2 427.2 553.5 427.2"/>
<path stroke="#9467bd" d="M102.5 427.2 104.8 427.2 107.1 427.2 109.3 427.2 111.6 427.2 113.8 427.2 116.1 427.2 118.3 427.2 120.6 427.2 122.8 427.2 125.1 427.2 127.3 427.2 129.6 427.2 131.9 427.2 134.1 427.2 136.4 427.2 138.6 427.2 140.9 427.2 143.1 427.2 145.4 426.6 147.6 390.0 149.9 352.1 152.1 367.0 154.4 398.1 156.7 426.6 158.9 426.6 161.2 426.5 163.4 426.3 165.7 425.4 167.9 424.4 170.2 425.1 172.4 425.7 174.7 425.5 176.9 425.6 179.2 420.7 181.5 412.6 183.7 413.6 186.0 407.8 188.2 401.3 190.5 391.9 192.7 403.9 195.0 398.1 197.2 391.6 199.5 411.0 201.7 412.6 204.0 411.7 206.3 415.9 208.5 415.9 210.8 414.9 213.0 413.3 215.3 412.1 217.5 411.0 219.8 414.8 222.0 411.7 224.3 409.0 226.5 414.3 228.8 417.2 231.1 413.1 233.3 413.0 235.6 412.1 237.8 410.6 240.1 409.5 242.3 408.3 244.6 410.3 246.8 411.3 249.1 415.0 251.3 414.9 253.6 410.8 255.9 407.6 258.1 411.7 260.4 411.2 262.6 408.6 264.9 411.8 267.1 414.4 269.4 413.4 271.6 409.5 273.9 411.6 276.1 409.4 278.4 408.1 280.7 411.8 282.9 411.3 285.2 414.7 287.4 412.5 289.7 411.8 291.9 409.2 294.2 409.1 296.4 409.8 298.7 408.9 300.9 411.5 303.2 412.6 305.5 411.8 307.7 409.1 310.0 412.3 312.2 409.9 314.5 406.9 316.7 409.7 319.0 413.8 321.2 414.6 323.5 409.2 325.7 412.0 328.0 414.6 330.3 412.4 332.5 411.3 334.8 414.2 337.0 411.8 339.3 410.4 341.5 408.9 343.8 409.9 346.0 414.0 348.3 415.1 350.5 412.1 352.8 408.2 355.1 404.1 357.3 408.5 359.6 410.7 361.8 412.2 364.1 413.2 366.3 408.8 368.6 412.5 370.8 415.1 373.1 411.0 375.3 408.4 377.6 412.1 379.9 413.5 382.1 413.8 384.4 412.2 386.6 408.6 388.9 410.7 391.1 410.8 393.4 414.5 395.6 419.4 397.9 416.4 400.1 413.0 402.4 414.6 404.7 418.0 406.9 416.4 409.2 412.6 411.4 412.1 413.7 414.6 415.9 417.7 418.2 416.2 420.4 413.7 422.7 415.3 424.9 413.7 427.2 413.5 429.5 414.4 431.7 417.4 434.0 419.0 436.2 418.4 438.5 414.2 440.7 412.5 443.0 417.3 445.2 418.7 447.5 416.5 449.7 412.8 452.0 412.8 454.3 411.5 456.5 411.2 458.8 412.8 461.0 415.3 463.3 415.0 465.5 413.9 467.8 414.1 470.0 412.8 472.3 417.3 474.5 418.8 476.8 418.5 479.1 415.4 481.3 414.6 483.6 417.8 485.8 417.2 488.1 417.8 490.3 419.3 492.6 420.2 494.8 420.5 497.1 423.8 499.3 427.2 501.6 425.9 503.9 408.6 506.1 376.1 508.4 427.2 510.6 427.2 512.9 427.2 515.1 380.7 517.4 427.2 519.6 427.2 521.9 427.2 524.1 427.2 526.4 427.2 528.7 427.2 530.9 427.2 533.2 427.2 535.4 427.2 537.7 427.2 539.9 427.2 542.2 427.2 544.4 427.2 546.7 427.2 548.9 427.2 551.2 427.2 553.5 427.2"/>
<path stroke="#8c564b" d="M102.5 427.2 104.8 427.2 107.1 427.2 109.3 427.2 111.6 427.2 113.8 427.2 116.1 427.2 118.3 427.2 120.6 427.2 122.8 427.2 125.1 427.2 127.3 427.2 129.6 427.2 131.9 427.2 134.1 427.2 136.4 427.2 138.6 427.2 140.9 427.2 143.1 427.2 145.4 427.1 147.6 425.7 149.9 424.1 152.1 425.4 154.4 426.7 156.7 426.8 158.9 426.7 161.2 426.4 163.4 426.2 165.7 425.9 167.9 425.6 170.2 425.9 172.4 425.6 174.7 425.7 176.9 425.5 179.2 424.2 181.5 422.5 183.7 422.1 186.0 420.8 188.2 420.9 190.5 418.1 192.7 419.3 195.0 419.5 197.2 420.7 199.5 419.9 201.7 417.7 204.0 419.0 206.3 420.6 208.5 419.6 210.8 417.3 213.0 414.0 215.3 415.5 217.5 414.5 219.8 411.7 222.0 408.6 224.3 414.2 226.5 418.2 228.8 417.3 231.1 412.8 233.3 415.5 235.6 418.9 237.8 417.3 240.1 416.4 242.3 415.4 244.6 413.3 246.8 411.9 249.1 412.6 251.3 416.7 253.6 414.6 255.9 414.8 258.1 415.1 260.4 412.8 262.6 415.7 264.9 415.4 267.1 408.8 269.4 407.5 271.6 408.0 273.9 409.5 276.1 413.4 278.4 409.4 280.7 411.0 282.9 410.5 285.2 409.7 287.4 410.4 289.7 412.4 291.9 412.2 294.2 411.5 296.4 412.6 298.7 415.5 300.9 411.0 303.2 409.4 305.5 404.9 307.7 407.8 310.0 408.1 312.2 408.8 314.5 405.2 316.7 408.5 319.0 410.5 321.2 412.8 323.5 417.4 325.7 417.7 328.0 416.5 330.3 413.3 332.5 411.8 334.8 410.2 337.0 410.6 339.3 410.8 341.5 413.2 343.8 412.4 346.0 414.5 348.3 416.7 350.5 416.8 352.8 413.5 355.1 414.2 357.3 414.9 359.6 416.7 361.8 414.8 364.1 405.0 366.3 410.6 368.6 416.1 370.8 415.6 373.1 415.4 375.3 416.6 377.6 414.4 379.9 415.5 382.1 414.2 384.4 415.4 386.6 414.0 388.9 407.8 391.1 415.2 393.4 419.2 395.6 419.2 397.9 418.6 400.1 415.4 402.4 416.3 404.7 418.2 406.9 414.2 409.2 417.1 411.4 418.7 413.7 416.1 415.9 417.4 418.2 420.7 420.4 421.2 422.7 420.5 424.9 420.2 427.2 418.7 429.5 418.7 431.7 420.8 434.0 421.4 436.2 420.0 438.5 417.8 440.7 418.3 443.0 417.7 445.2 418.9 447.5 419.1 449.7 419.1 452.0 418.0 454.3 418.8 456.5 417.6 458.8 413.0 461.0 416.3 463.3 419.7 465.5 417.2 467.8 417.2 470.0 417.0 472.3 420.0 474.5 417.5 476.8 414.2 479.1 398.1 481.3 404.5 483.6 417.5 485.8 418.2 488.1 420.0 490.3 420.7 492.6 419.2 494.8 420.7 497.1 424.9 499.3 427.2 501.6 425.6 503.9 381.9 506.1 413.1 508.4 427.2 510.6 427.2 512.9 427.2 515.1 293.2 517.4 427.2 519.6 427.2 521.9 427.2 524.1 427.2 526.4 427.2 528.7 427.2 530.9 427.2 533.2 427.2 535.4 427.2 537.7 427.2 539.9 427.2 542.2 427.2 544.4 427.2 546.7 427.2 548.9 427.2 551.2 427.2 553.5 427.2"/>
<path stroke="#e377c2" d="M102.5 427.2 104.8 427.2 107.1 427.2 109.3 427.2 111.6 427.2 113.8 427.2 116.1 427.2 118.3 427.2 120.6 427.2 122.8 427.2 125.1 427.2 127.3 427.2 129.6 427.2 131.9 427.2 134.1 427.2 136.4 427.2 138.6 427.2 140.9 427.2 143.1 427.2 145.4 427.1 147.6 426.6 149.9 426.0 152.1 426.5 154.4 427.1 156.7 427.1 158.9 427.0 161.2 427.0 163.4 426.9 165.7 426.7 167.9 426.5 170.2 426.3 172.4 426.3 174.7 426.2 176.9 425.8 179.2 424.9 181.5 423.9 183.7 422.9 186.0 422.5 188.2 422.6 190.5 422.5 192.7 422.7 195.0 422.6 197.2 423.1 199.5 422.4 201.7 422.1 204.0 422.5 206.3 421.6 208.5 421.7 210.8 420.1 213.0 418.8 215.3 420.2 217.5 420.6 219.8 420.2 222.0 420.8 224.3 421.0 226.5 420.1 228.8 421.2 231.1 419.8 233.3 420.0 235.6 419.2 237.8 418.7 240.1 417.1 242.3 419.7 244.6 420.4 246.8 415.7 249.1 417.3 251.3 418.6 253.6 418.3 255.9 418.4 258.1 417.9 260.4 417.5 262.6 414.7 264.9 417.1 267.1 415.8 269.4 413.9 271.6 416.1 273.9 416.2 276.1 418.0 278.4 418.8 280.7 418.3 282.9 415.3 285.2 415.5 287.4 417.3 289.7 416.2 291.9 417.5 294.2 416.9 296.4 417.3 298.7 419.1 300.9 416.9 303.2 416.7 305.5 418.1 307.7 416.6 310.0 416.2 312.2 415.9 314.5 416.7 316.7 418.2 319.0 419.0 321.2 418.3 323.5 418.6 325.7 418.0 328.0 416.4 330.3 415.3 332.5 415.7 334.8 416.6 337.0 417.3 339.3 415.9 341.5 415.5 343.8 417.5 346.0 418.7 348.3 419.1 350.5 418.4 352.8 416.6 355.1 413.0 357.3 414.9 359.6 419.0 361.8 417.8 364.1 418.2 366.3 419.5 368.6 418.8 370.8 419.1 373.1 418.3 375.3 418.2 377.6 418.9 379.9 417.1 382.1 418.3 384.4 420.2 386.6 420.2 388.9 417.5 391.1 419.6 393.4 420.3 395.6 420.1 397.9 420.5 400.1 422.6 402.4 423.4 404.7 422.6 406.9 422.8 409.2 421.6 411.4 417.5 413.7 412.6 415.9 407.8 418.2 414.2 420.4 419.1 422.7 422.5 424.9 422.9 427.2 423.2 429.5 423.1 431.7 422.1 434.0 423.3 436.2 424.0 438.5 423.7 440.7 422.9 443.0 422.4 445.2 422.7 447.5 423.7 449.7 422.9 452.0 420.5 454.3 421.1 456.5 420.7 458.8 422.1 461.0 422.7 463.3 423.7 465.5 424.2 467.8 423.3 470.0 421.7 472.3 421.0 474.5 422.1 476.8 423.5 479.1 423.9 481.3 423.9 483.6 423.1 485.8 422.2 488.1 422.6 490.3 423.3 492.6 423.7 494.8 424.5 497.1 425.8 499.3 427.2 501.6 426.8 503.9 380.6 506.1 379.2 508.4 427.2 510.6 427.2 512.9 427.2 515.1 376.6 517.4 427.2 519.6 427.2 521.9 427.2 524.1 427.2 526.4 427.2 528.7 427.2 530.9 427.2 533.2 427.2 535.4 427.2 537.7 427.2 539.9 427.2 542.2 427.2 544.4 427.2 546.7 427.2 548.9 427.2 551.2 427.2 553.5 427.2"/>
<path stroke="#7f7f7f" d="M102.5 427.2 104.8 427.2 107.1 427.2 109.3 427.2 111.6 427.2 113.8 427.2 116.1 427.2 118.3 427.2 120.6 427.2 122.8 427.2 125.1 427.2 127.3 427.2 129.6 427.2 131.9 427.2 134.1 427.2 136.4 427.2 138.6 427.2 140.9 427.2 143.1 427.2 145.4 427.2 147.6 426.2 149.9 425.3 152.1 426.1 154.4 427.1 156.7 427.1 158.9 427.1 161.2 427.0 163.4 426.9 165.7 426.9 167.9 426.8 170.2 426.6 172.4 426.4 174.7 426.2 176.9 426.1 179.2 425.7 181.5 425.3 183.7 424.6 186.0 423.7 188.2 425.0 190.5 424.5 192.7 424.4 195.0 424.2 197.2 424.5 199.5 424.2 201.7 424.2 204.0 423.4 206.3 422.9 208.5 423.9 210.8 423.9 213.0 421.8 215.3 420.4 217.5 422.1 219.8 423.6 222.0 423.1 224.3 420.9 226.5 419.8 228.8 421.4 231.1 422.0 233.3 421.0 235.6 422.0 237.8 421.8 240.1 421.5 242.3 421.0 244.6 420.3 246.8 420.9 249.1 419.9 251.3 418.3 253.6 417.5 255.9 417.9 258.1 420.0 260.4 420.9 262.6 419.5 264.9 418.7 267.1 418.7 269.4 418.7 271.6 418.7 273.9 419.5 276.1 417.6 278.4 415.9 280.7 418.0 282.9 418.4 285.2 417.8 287.4 417.5 289.7 417.5 291.9 418.1 294.2 418.3 296.4 417.6 298.7 418.9 300.9 417.8 303.2 418.2 305.5 418.2 307.7 419.9 310.0 420.7 312.2 420.1 314.5 419.0 316.7 417.3 319.0 419.0 321.2 419.9 323.5 419.8 325.7 419.1 328.0 418.6 330.3 418.3 332.5 419.6 334.8 420.2 337.0 419.2 339.3 418.0 341.5 418.2 343.8 419.8 346.0 419.8 348.3 419.2 350.5 420.0 352.8 420.2 355.1 419.3 357.3 419.3 359.6 419.2 361.8 418.8 364.1 419.8 366.3 420.7 368.6 420.5 370.8 419.4 373.1 419.4 375.3 419.5 377.6 420.2 379.9 419.9 382.1 420.7 384.4 421.1 386.6 420.8 388.9 421.0 391.1 421.3 393.4 421.3 395.6 421.4 397.9 422.9 400.1 423.6 402.4 422.3 404.7 421.1 406.9 422.0 409.2 423.5 411.4 422.9 413.7 422.5 415.9 422.6 418.2 422.6 420.4 423.9 422.7 425.2 424.9 424.6 427.2 424.7 429.5 425.0 431.7 425.2 434.0 425.2 436.2 424.6 438.5 423.6 440.7 422.9 443.0 422.9 445.2 423.2 447.5 424.4 449.7 424.3 452.0 422.6 454.3 422.9 456.5 423.5 458.8 423.5 461.0 424.0 463.3 423.7 465.5 424.5 467.8 424.5 470.0 424.3 472.3 424.5 474.5 424.8 476.8 424.1 479.1 424.0 481.3 424.1 483.6 424.1 485.8 424.2 488.1 423.8 490.3 424.4 492.6 425.3 494.8 425.6 497.1 426.3 499.3 427.2 501.6 424.0 503.9 331.7 506.1 338.1 508.4 427.2 510.6 427.2 512.9 427.2 515.1 313.0 517.4 427.2 519.6 427.2 521.9 427.2 524.1 427.2 526.4 427.2 528.7 427.2 530.9 427.2 533.2 427.2 535.4 427.2 537.7 427.2 539.9 427.2 542.2 427.2 544.4 427.2 546.7 427.2 548.9 427.2 551.2 427.2 553.5 427.2"/>
<path stroke="#bcbd22" d="M102.5 427.2 104.8 427.2 107.1 427.2 109.3 427.2 111.6 427.2 113.8 427.2 116.1 427.2 118.3 427.2 120.6 427.2 122.8 427.2 125.1 427.2 127.3 427.2 129.6 427.2 131.9 427.2 134.1 427.2 136.4 427.2 138.6 427.2 140.9 427.2 143.1 427.2 145.4 427.2 147.6 426.3 149.9 425.3 152.1 426.1 154.4 427.1 156.7 427.1 158.9 427.1 161.2 427.0 163.4 427.0 165.7 427.0 167.9 426.9 170.2 426.7 172.4 426.5 174.7 426.3 176.9 426.1 179.2 426.0 181.5 425.8 183.7 425.6 186.0 425.2 188.2 425.4 190.5 425.5 192.7 425.3 195.0 424.7 197.2 424.5 199.5 424.3 201.7 423.8 204.0 424.3 206.3 424.7 208.5 424.2 210.8 424.5 213.0 424.4 215.3 423.7 217.5 423.6 219.8 423.5 222.0 423.4 224.3 423.4 226.5 423.5 228.8 422.2 231.1 421.6 233.3 422.0 235.6 421.3 237.8 420.8 240.1 420.4 242.3 420.6 244.6 421.8 246.8 421.1 249.1 421.0 251.3 420.7 253.6 420.5 255.9 418.8 258.1 418.8 260.4 420.1 262.6 420.1 264.9 420.1 267.1 419.8 269.4 419.5 271.6 421.0 273.9 421.2 276.1 419.6 278.4 419.6 280.7 420.6 282.9 421.0 285.2 421.3 287.4 421.0 289.7 421.2 291.9 420.1 294.2 419.8 296.4 420.1 298.7 418.9 300.9 418.6 303.2 419.3 305.5 420.4 307.7 420.8 310.0 421.2 312.2 421.4 314.5 420.0 316.7 419.6 319.0 420.8 321.2 420.2 323.5 420.1 325.7 419.9 328.0 419.2 330.3 419.3 332.5 420.2 334.8 419.9 337.0 421.1 339.3 421.8 341.5 419.4 343.8 419.9 346.0 420.4 348.3 419.4 350.5 420.0 352.8 420.6 355.1 420.4 357.3 420.4 359.6 421.5 361.8 422.4 364.1 421.5 366.3 421.7 368.6 422.0 370.8 421.0 373.1 420.0 375.3 421.7 377.6 421.9 379.9 422.7 382.1 422.9 384.4 422.2 386.6 421.4 388.9 421.8 391.1 422.0 393.4 421.9 395.6 422.8 397.9 423.8 400.1 424.2 402.4 424.2 404.7 424.4 406.9 424.6 409.2 424.8 411.4 425.1 413.7 425.4 415.9 425.6 418.2 425.5 420.4 424.8 422.7 424.8 424.9 424.9 427.2 425.4 429.5 425.4 431.7 425.3 434.0 425.5 436.2 425.3 438.5 425.3 440.7 425.2 443.0 425.3 445.2 424.9 447.5 425.2 449.7 425.3 452.0 425.6 454.3 425.4 456.5 425.2 458.8 425.6 461.0 425.3 463.3 425.4 465.5 425.3 467.8 425.5 470.0 425.5 472.3 425.3 474.5 425.4 476.8 425.7 479.1 425.5 481.3 425.4 483.6 425.4 485.8 425.7 488.1 425.6 490.3 425.7 492.6 425.9 494.8 425.9 497.1 426.6 499.3 427.2 501.6 424.2 503.9 408.1 506.1 392.7 508.4 427.2 510.6 427.2 512.9 427.2 515.1 387.1 517.4 427.2 519.6 427.2 521.9 427.2 524.1 427.2 526.4 427.2 528.7 427.2 530.9 427.2 533.2 427.2 535.4 427.2 537.7 427.2 539.9 427.2 542.2 427.2 544.4 427.2 546.7 427.2 548.9 427.2 551.2 427.2 553.5 427.2"/>
<path stroke="#17becf" d="M102.5 427.2 104.8 427.2 107.1 427.2 109.3 427.2 111.6 427.2 113.8 427.2 116.1 427.2 118.3 427.2 120.6 427.2 122.8 427.2 125.1 427.2 127.3 427.2 129.6 427.2 131.9 427.2 134.1 427.2 136.4 427.2 138.6 427.2 140.9 427.2 143.1 427.2 145.4 427.1 147.6 425.5 149.9 423.8 152.1 425.2 154.4 426.9 156.7 426.8 158.9 426.7 161.2 426.6 163.4 426.4 165.7 426.0 167.9 425.5 170.2 425.6 172.4 425.5 174.7 424.5 176.9 423.8 179.2 421.9 181.5 421.5 183.7 420.4 186.0 415.3 188.2 415.3 190.5 418.3 192.7 416.5 195.0 411.7 197.2 409.7 199.5 412.3 201.7 416.0 204.0 411.0 206.3 411.0 208.5 411.0 210.8 411.0 213.0 411.0 215.3 411.0 217.5 406.8 219.8 402.6 222.0 411.0 224.3 411.8 226.5 412.6 228.8 412.3 231.1 411.9 233.3 411.5 235.6 411.2 237.8 410.8 240.1 410.5 242.3 410.1 244.6 409.7 246.8 409.4 249.1 405.0 251.3 400.6 253.6 403.6 255.9 406.5 258.1 403.2 260.4 400.0 262.6 398.5 264.9 397.1 267.1 404.5 269.4 404.5 271.6 406.2 273.9 406.5 276.1 406.8 278.4 408.9 280.7 411.0 282.9 413.0 285.2 414.9 287.4 401.3 289.7 405.3 291.9 409.4 294.2 407.8 296.4 407.0 298.7 406.2 300.9 405.6 303.2 405.1 305.5 404.5 307.7 399.7 310.0 394.8 312.2 401.3 314.5 406.6 316.7 412.0 319.0 407.1 321.2 405.8 323.5 404.5 325.7 402.8 328.0 401.0 330.3 406.2 332.5 405.3 334.8 404.5 337.0 406.2 339.3 407.8 341.5 415.2 343.8 410.3 346.0 407.8 348.3 408.6 350.5 410.4 352.8 409.0 355.1 410.9 357.3 410.5 359.6 410.3 361.8 411.1 364.1 407.5 366.3 408.4 368.6 410.7 370.8 411.3 373.1 408.5 375.3 411.1 377.6 413.9 379.9 411.3 382.1 407.5 384.4 410.3 386.6 414.1 388.9 415.2 391.1 414.1 393.4 411.0 395.6 412.7 397.9 412.1 400.1 412.0 402.4 413.4 404.7 412.2 406.9 413.0 409.2 414.7 411.4 417.8 413.7 416.7 415.9 417.3 418.2 418.3 420.4 417.8 422.7 419.3 424.9 419.7 427.2 421.0 429.5 418.7 431.7 416.6 434.0 413.8 436.2 415.6 438.5 417.6 440.7 420.4 443.0 418.6 445.2 417.5 447.5 414.1 449.7 412.8 452.0 413.9 454.3 413.3 456.5 413.3 458.8 414.1 461.0 413.9 463.3 414.8 465.5 416.2 467.8 416.2 470.0 413.0 472.3 416.4 474.5 417.2 476.8 412.8 479.1 416.1 481.3 418.1 483.6 419.9 485.8 418.4 488.1 414.1 490.3 415.0 492.6 417.3 494.8 421.2 497.1 423.7 499.3 427.2 501.6 423.5 503.9 411.3 506.1 390.9 508.4 427.2 510.6 427.2 512.9 427.2 515.1 333.8 517.4 427.2 519.6 427.2 521.9 427.2 524.1 427.2 526.4 427.2 528.7 427.2 530.9 427.2 533.2 427.2 535.4 427.2 537.7 427.2 539.9 427.2 542.2 427.2 544.4 427.2 546.7 427.2 548.9 427.2 551.2 427.2 553.5 427.2"/>
<path stroke="#1f77b4" d="M102.5 427.2 104.8 427.2 107.1 427.2 109.3 427.2 111.6 427.2 113.8 427.2 116.1 427.2 118.3 427.2 120.6 427.2 122.8 427.2 125.1 427.2 127.3 427.2 129.6 427.2 131.9 427.2 134.1 427.2 136.4 427.2 138.6 427.2 140.9 427.2 143.1 427.2 145.4 427.0 147.6 425.3 149.9 423.3 152.1 424.9 154.4 426.6 156.7 426.6 158.9 426.5 161.2 426.4 163.4 425.6 165.7 422.3 167.9 420.7 170.2 421.7 172.4 421.4 174.7 422.3 176.9 425.3 179.2 422.2 181.5 419.1 183.7 415.9 186.0 409.4 188.2 400.0 190.5 407.8 192.7 414.9 195.0 415.5 197.2 414.2 199.5 415.9 201.7 414.2 204.0 412.0 206.3 412.6 208.5 412.0 210.8 416.6 213.0 415.8 215.3 416.2 217.5 414.4 219.8 416.7 222.0 415.0 224.3 411.9 226.5 413.3 228.8 414.4 231.1 413.4 233.3 413.7 235.6 412.0 237.8 408.8 240.1 412.7 242.3 415.4 244.6 412.8 246.8 412.5 249.1 408.2 251.3 407.4 253.6 409.2 255.9 410.9 258.1 412.6 260.4 409.4 262.6 404.5 264.9 399.7 267.1 402.9 269.4 403.9 271.6 404.5 273.9 409.4 276.1 411.0 278.4 409.9 280.7 412.3 282.9 409.6 285.2 410.2 287.4 402.8 289.7 406.4 291.9 409.9 294.2 413.2 296.4 412.6 298.7 413.4 300.9 408.4 303.2 407.0 305.5 406.6 307.7 406.4 310.0 404.8 312.2 399.9 314.5 399.7 316.7 404.8 319.0 410.9 321.2 411.8 323.5 407.2 325.7 408.1 328.0 410.4 330.3 408.4 332.5 404.3 334.8 405.7 337.0 411.8 339.3 415.2 341.5 415.3 343.8 412.0 346.0 412.0 348.3 412.6 350.5 405.0 352.8 400.6 355.1 407.3 357.3 407.4 359.6 410.1 361.8 409.0 364.1 407.5 366.3 407.1 368.6 406.6 370.8 408.8 373.1 412.6 375.3 411.0 377.6 409.4 379.9 407.8 382.1 408.4 384.4 407.8 386.6 409.4 388.9 409.4 391.1 404.5 393.4 402.9 395.6 409.4 397.9 409.4 400.1 411.0 402.4 415.9 404.7 404.5 406.9 414.2 409.2 406.2 411.4 412.6 413.7 397.1 415.9 393.2 418.2 399.7 420.4 414.2 422.7 417.5 424.9 409.6 427.2 412.2 429.5 414.4 431.7 414.9 434.0 415.4 436.2 416.2 438.5 417.0 440.7 414.8 443.0 416.0 445.2 416.8 447.5 416.0 449.7 412.4 452.0 413.9 454.3 417.9 456.5 412.2 458.8 412.5 461.0 413.7 463.3 412.8 465.5 416.3 467.8 418.7 470.0 419.9 472.3 418.4 474.5 416.1 476.8 418.4 479.1 419.1 481.3 417.1 483.6 418.5 485.8 418.5 488.1 419.1 490.3 417.5 492.6 414.2 494.8 410.4 497.1 424.0 499.3 427.2 501.6 423.6 503.9 403.8 506.1 404.6 508.4 427.2 510.6 427.2 512.9 427.2 515.1 75.2 517.4 427.2 519.6 427.2 521.9 427.2 524.1 427.2 526.4 427.2 528.7 427.2 530.9 427.2 533.2 427.2 535.4 427.2 537.7 427.2 539.9 427.2 542.2 427.2 544.4 427.2 546.7 427.2 548.9 427.2 551.2 427.2 553.5 427.2"/>
<path stroke="#ff7f0e" d="M102.5 427.2 104.8 427.2 107.1 427.2 109.3 427.2 111.6 427.2 113.8 427.2 116.1 427.2 118.3 427.2 120.6 427.2 122.8 427.2 125.1 427.2 127.3 427.2 129.6 427.2 131.9 427.2 134.1 427.2 136.4 427.2 138.6 427.2 140.9 427.2 143.1 427.2 145.4 427.1 147.6 425.7 149.9 424.2 152.1 425.4 154.4 426.7 156.7 426.7 158.9 426.5 161.2 426.2 163.4 426.2 165.7 425.9 167.9 425.9 170.2 425.9 172.4 425.6 174.7 425.0 176.9 424.8 179.2 423.7 181.5 422.7 183.7 421.5 186.0 420.7 188.2 421.1 190.5 421.9 192.7 418.9 195.0 416.6 197.2 416.8 199.5 416.8 201.7 418.9 204.0 419.9 206.3 421.2 208.5 418.4 210.8 416.7 213.0 414.4 215.3 413.1 217.5 415.2 219.8 417.1 222.0 414.1 224.3 415.9 226.5 411.0 228.8 411.0 231.1 409.4 233.3 411.0 235.6 417.5 237.8 417.9 240.1 414.2 242.3 411.8 244.6 412.4 246.8 414.9 249.1 414.8 251.3 416.4 253.6 415.9 255.9 414.0 258.1 415.7 260.4 411.9 262.6 402.8 264.9 404.6 267.1 406.9 269.4 407.0 271.6 410.8 273.9 410.9 276.1 411.0 278.4 407.8 280.7 403.9 282.9 407.8 285.2 407.8 287.4 400.6 289.7 404.5 291.9 407.8 294.2 409.4 296.4 407.8 298.7 406.2 300.9 409.4 303.2 407.8 305.5 406.2 307.7 404.5 310.0 402.6 312.2 406.2 314.5 411.0 316.7 413.6 319.0 412.6 321.2 410.9 323.5 408.0 325.7 410.0 328.0 412.2 330.3 410.4 332.5 410.6 334.8 409.4 337.0 409.6 339.3 412.6 341.5 411.8 343.8 410.5 346.0 409.5 348.3 405.3 350.5 409.2 352.8 411.9 355.1 411.0 357.3 410.0 359.6 407.1 361.8 412.8 364.1 413.2 366.3 409.7 368.6 412.9 370.8 414.3 373.1 414.1 375.3 414.9 377.6 416.2 379.9 417.6 382.1 414.1 384.4 409.4 386.6 406.5 388.9 410.9 391.1 412.1 393.4 414.8 395.6 411.5 397.9 409.2 400.1 413.5 402.4 415.8 404.7 414.8 406.9 412.4 409.2 415.7 411.4 414.0 413.7 417.6 415.9 418.7 418.2 417.4 420.4 416.0 422.7 417.5 424.9 415.9 427.2 402.9 429.5 387.4 431.7 407.8 434.0 417.5 436.2 416.1 438.5 417.3 440.7 418.4 443.0 420.8 445.2 420.4 447.5 418.0 449.7 418.4 452.0 415.8 454.3 413.3 456.5 414.2 458.8 407.8 461.0 394.8 463.3 411.0 465.5 417.5 467.8 420.1 470.0 420.7 472.3 417.6 474.5 413.9 476.8 414.6 479.1 416.5 481.3 415.5 483.6 420.7 485.8 417.5 488.1 403.9 490.3 417.5 492.6 419.1 494.8 416.5 497.1 423.1 499.3 427.2 501.6 424.5 503.9 388.9 506.1 375.7 508.4 427.2 510.6 427.2 512.9 427.2 515.1 343.9 517.4 427.2 519.6 427.2 521.9 427.2 524.1 427.2 526.4 427.2 528.7 427.2 530.9 427.2 533.2 427.2 535.4 427.2 537.7 427.2 539.9 427.2 542.2 427.2 544.4 427.2 546.7 427.2 548.9 427.2 551.2 427.2 553.5 427.2"/>
<path stroke="#2ca02c" d="M102.5 427.2 104.8 427.2 107.1 427.2 109.3 427.2 111.6 427.2 113.8 427.2 116.1 427.2 118.3 427.2 120.6 427.2 122.8 427.2 125.1 427.2 127.3 427.2 129.6 427.2 131.9 427.2 134.1 427.2 136.4 427.2 138.6 427.2 140.9 427.2 143.1 427.2 145.4 427.1 147.6 425.8 149.9 424.3 152.1 425.5 154.4 426.9 156.7 426.8 158.9 426.7 161.2 426.6 163.4 425.6 165.7 424.0 167.9 423.3 170.2 424.0 172.4 424.0 174.7 425.6 176.9 425.3 179.2 424.1 181.5 422.3 183.7 419.0 186.0 414.8 188.2 417.5 190.5 420.4 192.7 419.6 195.0 418.9 197.2 419.7 199.5 418.7 201.7 419.2 204.0 420.3 206.3 420.0 208.5 417.8 210.8 417.1 213.0 415.9 215.3 409.4 217.5 414.2 219.8 420.0 222.0 415.9 224.3 412.6 226.5 415.9 228.8 417.2 231.1 413.9 233.3 414.6 235.6 411.8 237.8 413.5 240.1 417.5 242.3 414.4 244.6 412.6 246.8 404.5 249.1 412.6 251.3 415.9 253.6 414.0 255.9 411.3 258.1 413.0 260.4 410.9 262.6 412.6 264.9 407.8 267.1 412.6 269.4 409.4 271.6 409.8 273.9 406.4 276.1 404.0 278.4 404.7 280.7 411.0 282.9 407.8 285.2 407.8 287.4 395.1 289.7 399.7 291.9 404.5 294.2 409.4 296.4 412.6 298.7 410.7 300.9 414.4 303.2 414.3 305.5 414.5 307.7 414.2 310.0 414.2 312.2 409.0 314.5 409.6 316.7 416.7 319.0 417.2 321.2 411.9 323.5 412.0 325.7 415.7 328.0 414.7 330.3 414.4 332.5 412.3 334.8 415.1 337.0 415.1 339.3 413.0 341.5 411.8 343.8 409.4 346.0 412.5 348.3 415.8 350.5 414.1 352.8 412.8 355.1 407.3 357.3 405.7 359.6 408.2 361.8 406.4 364.1 406.8 366.3 406.2 368.6 409.3 370.8 411.1 373.1 411.7 375.3 412.1 377.6 411.7 379.9 416.7 382.1 418.2 384.4 415.8 386.6 411.5 388.9 415.0 391.1 417.3 393.4 418.0 395.6 417.0 397.9 416.6 400.1 415.2 402.4 416.4 404.7 416.5 406.9 417.7 409.2 414.4 411.4 409.1 413.7 416.4 415.9 418.4 418.2 418.3 420.4 420.5 422.7 420.8 424.9 417.5 427.2 414.2 429.5 404.5 431.7 414.2 434.0 418.5 436.2 419.5 438.5 419.6 440.7 419.6 443.0 420.7 445.2 418.1 447.5 419.5 449.7 417.9 452.0 417.8 454.3 417.2 456.5 414.7 458.8 413.6 461.0 418.0 463.3 419.6 465.5 419.3 467.8 421.7 470.0 421.2 472.3 420.6 474.5 420.9 476.8 421.2 479.1 419.5 481.3 419.4 483.6 419.4 485.8 419.1 488.1 419.5 490.3 419.2 492.6 418.6 494.8 420.4 497.1 423.8 499.3 427.2 501.6 424.6 503.9 321.3 506.1 356.0 508.4 427.2 510.6 427.2 512.9 427.2 515.1 345.2 517.4 427.2 519.6 427.2 521.9 427.2 524.1 427.2 526.4 427.2 528.7 427.2 530.9 427.2 533.2 427.2 535.4 427.2 537.7 427.2 539.9 427.2 542.2 427.2 544.4 427.2 546.7 427.2 548.9 427.2 551.2 427.2 553.5 427.2"/>
<path stroke="#d62728" d="M102.5 427.2 104.8 427.2 107.1 427.2 109.3 427.2 111.6 427.2 113.8 427.2 116.1 427.2 118.3 427.2 120.6 427.2 122.8 427.2 125.1 427.2 127.3 427.2 129.6 427.2 131.9 427.2 134.1 427.2 136.4 427.2 138.6 427.2 140.9 427.2 143.1 427.2 145.4 427.1 147.6 424.0 149.9 420.4 152.1 423.3 154.4 426.6 156.7 426.7 158.9 426.7 161.2 426.5 163.4 426.2 165.7 425.9 167.9 425.7 170.2 424.8 172.4 424.9 174.7 425.2 176.9 424.5 179.2 422.9 181.5 420.9 183.7 419.2 186.0 418.5 188.2 418.9 190.5 420.0 192.7 420.1 195.0 418.8 197.2 418.4 199.5 417.8 201.7 419.1 204.0 420.4 206.3 417.9 208.5 414.2 210.8 412.6 213.0 411.0 215.3 396.4 217.5 409.4 219.8 409.4 222.0 409.4 224.3 409.4 226.5 409.4 228.8 399.7 231.1 395.5 233.3 399.4 235.6 412.0 237.8 410.7 240.1 409.4 242.3 407.0 244.6 404.5 246.8 398.1 249.1 407.8 251.3 412.6 253.6 412.2 255.9 409.8 258.1 411.0 260.4 409.8 262.6 406.4 264.9 409.9 267.1 412.2 269.4 409.8 271.6 407.1 273.9 412.6 276.1 407.1 278.4 412.6 280.7 415.4 282.9 417.2 285.2 416.3 287.4 415.9 289.7 412.6 291.9 411.0 294.2 409.7 296.4 408.4 298.7 409.4 300.9 411.0 303.2 411.8 305.5 412.6 307.7 410.2 310.0 411.4 312.2 410.4 314.5 412.3 316.7 408.6 319.0 407.8 321.2 409.7 323.5 414.6 325.7 412.7 328.0 413.3 330.3 416.2 332.5 412.6 334.8 411.0 337.0 406.2 339.3 411.0 341.5 411.0 343.8 409.4 346.0 407.1 348.3 407.8 350.5 407.8 352.8 409.4 355.1 411.0 357.3 401.0 359.6 411.0 361.8 412.6 364.1 410.3 366.3 414.9 368.6 412.6 370.8 409.4 373.1 403.6 375.3 411.0 377.6 414.2 379.9 410.2 382.1 410.0 384.4 413.5 386.6 415.6 388.9 416.5 391.1 412.1 393.4 413.5 395.6 416.9 397.9 419.1 400.1 418.3 402.4 415.7 404.7 415.3 406.9 413.2 409.2 415.1 411.4 417.8 413.7 419.0 415.9 417.3 418.2 413.6 420.4 413.9 422.7 418.4 424.9 418.6 427.2 419.1 429.5 419.3 431.7 421.7 434.0 421.4 436.2 420.9 438.5 417.2 440.7 417.5 443.0 415.9 445.2 409.7 447.5 415.9 449.7 417.5 452.0 417.5 454.3 417.5 456.5 415.9 458.8 414.2 461.0 411.0 463.3 396.4 465.5 369.6 467.8 378.6 470.0 411.0 472.3 417.5 474.5 415.4 476.8 417.4 479.1 418.6 481.3 421.1 483.6 419.8 485.8 419.3 488.1 415.8 490.3 413.5 492.6 416.6 494.8 419.8 497.1 423.2 499.3 427.2 501.6 424.0 503.9 382.5 506.1 378.6 508.4 427.2 510.6 427.2 512.9 427.2 515.1 315.3 517.4 427.2 519.6 427.2 521.9 427.2 524.1 427.2 526.4 427.2 528.7 427.2 530.9 427.2 533.2 427.2 535.4 427.2 537.7 427.2 539.9 427.2 542.2 427.2 544.4 427.2 546.7 427.2 548.9 427.2 551.2 427.2 553.5 427.2"/>
<path stroke="#9467bd" d="M102.5 427.2 104.8 427.2 107.1 427.2 109.3 427.2 111.6 427.2 113.8 427.2 116.1 427.2 118.3 427.2 120.6 427.2 122.8 427.2 125.1 427.2 127.3 427.2 129.6 427.2 131.9 427.2 134.1 427.2 136.4 427.2 138.6 427.2 140.9 427.2 143.1 427.2 145.4 427.2 147.6 426.1 149.9 425.0 152.1 425.9 154.4 427.1 156.7 427.1 158.9 427.1 161.2 427.1 163.4 427.1 165.7 426.9 167.9 426.7 170.2 426.7 172.4 426.6 174.7 426.4 176.9 426.3 179.2 425.9 181.5 425.4 183.7 425.5 186.0 425.2 188.2 424.6 190.5 425.0 192.7 425.0 195.0 424.7 197.2 424.5 199.5 424.5 201.7 424.7 204.0 425.0 206.3 424.8 208.5 424.0 210.8 423.4 213.0 424.2 215.3 423.8 217.5 423.1 219.8 423.3 222.0 422.9 224.3 422.7 226.5 421.8 228.8 421.2 231.1 422.1 233.3 422.0 235.6 421.7 237.8 421.5 240.1 422.0 242.3 422.7 244.6 422.0 246.8 422.0 249.1 421.5 251.3 420.6 253.6 420.4 255.9 421.1 258.1 421.1 260.4 421.1 262.6 420.9 264.9 418.7 267.1 418.1 269.4 419.1 271.6 417.5 273.9 407.8 276.1 397.4 278.4 407.8 280.7 417.5 282.9 420.0 285.2 421.1 287.4 421.2 289.7 421.6 291.9 420.4 294.2 420.3 296.4 421.1 298.7 420.6 300.9 419.2 303.2 420.0 305.5 419.2 307.7 419.0 310.0 419.1 312.2 420.5 314.5 419.5 316.7 418.5 319.0 415.9 321.2 414.2 323.5 404.5 325.7 399.7 328.0 391.9 330.3 404.5 332.5 401.3 334.8 397.4 337.0 407.8 339.3 404.5 341.5 406.2 343.8 404.5 346.0 401.9 348.3 407.8 350.5 415.9 352.8 418.9 355.1 419.7 357.3 419.0 359.6 418.7 361.8 419.5 364.1 420.2 366.3 420.3 368.6 420.7 370.8 420.8 373.1 420.2 375.3 420.1 377.6 420.8 379.9 420.7 382.1 421.0 384.4 421.6 386.6 422.2 388.9 422.0 391.1 422.1 393.4 422.2 395.6 422.1 397.9 422.5 400.1 423.1 402.4 424.1 404.7 424.9 406.9 424.6 409.2 417.5 411.4 417.5 413.7 401.3 415.9 389.6 418.2 404.5 420.4 419.1 422.7 425.5 424.9 425.2 427.2 425.7 429.5 425.8 431.7 425.5 434.0 425.2 436.2 425.0 438.5 425.1 440.7 424.9 443.0 425.2 445.2 425.7 447.5 425.9 449.7 425.8 452.0 425.5 454.3 425.7 456.5 425.7 458.8 425.4 461.0 424.9 463.3 425.0 465.5 425.2 467.8 425.2 470.0 425.0 472.3 417.5 474.5 415.9 476.8 411.0 479.1 375.7 481.3 411.0 483.6 417.5 485.8 420.7 488.1 420.7 490.3 417.5 492.6 412.6 494.8 417.5 497.1 425.6 499.3 427.2 501.6 424.0 503.9 404.5 506.1 407.8 508.4 427.2 510.6 427.2 512.9 427.2 515.1 378.8 517.4 427.2 519.6 427.2 521.9 427.2 524.1 427.2 526.4 427.2 528.7 427.2 530.9 427.2 533.2 427.2 535.4 427.2 537.7 427.2 539.9 427.2 542.2 427.2 544.4 427.2 546.7 427.2 548.9 427.2 551.2 427.2 553.5 427.2"/>
<path stroke="#8c564b" d="M102.5 427.2 104.8 427.2 107.1 427.2 109.3 427.2 111.6 427.2 113.8 427.2 116.1 427.2 118.3 427.2 120.6 427.2 122.8 427.2 125.1 427.2 127.3 427.2 129.6 427.2 131.9 427.2 134.1 427.2 136.4 427.2 138.6 427.2 140.9 427.2 143.1 427.2 145.4 427.2 147.6 425.9 149.9 424.7 152.1 425.7 154.4 427.0 156.7 427.0 158.9 427.0 161.2 426.9 163.4 426.9 165.7 426.8 167.9 426.6 170.2 426.5 172.4 426.4 174.7 426.3 176.9 426.2 179.2 425.8 181.5 425.1 183.7 424.1 186.0 424.3 188.2 424.8 190.5 424.8 192.7 424.8 195.0 424.7 197.2 424.3 199.5 424.2 201.7 423.8 204.0 422.4 206.3 422.2 208.5 421.9 210.8 422.5 213.0 422.6 215.3 423.1 217.5 423.5 219.8 423.3 222.0 422.2 224.3 420.8 226.5 419.4 228.8 421.2 231.1 422.4 233.3 421.7 235.6 421.0 237.8 421.5 240.1 421.1 242.3 420.0 244.6 419.8 246.8 419.6 249.1 419.7 251.3 419.4 253.6 417.7 255.9 418.0 258.1 418.6 260.4 418.5 262.6 418.9 264.9 418.9 267.1 418.2 269.4 416.8 271.6 414.8 273.9 417.2 276.1 417.2 278.4 415.9 280.7 418.8 282.9 418.3 285.2 416.9 287.4 417.5 289.7 412.6 291.9 407.8 294.2 402.9 296.4 397.4 298.7 396.1 300.9 411.0 303.2 417.5 305.5 416.9 307.7 419.2 310.0 419.4 312.2 417.3 314.5 417.6 316.7 419.4 319.0 419.5 321.2 419.1 323.5 419.0 325.7 418.5 328.0 418.3 330.3 417.9 332.5 418.1 334.8 418.3 337.0 419.0 339.3 418.6 341.5 418.0 343.8 417.5 346.0 418.4 348.3 419.3 350.5 418.5 352.8 416.9 355.1 418.3 357.3 418.3 359.6 417.4 361.8 417.9 364.1 418.3 366.3 419.9 368.6 420.4 370.8 419.1 373.1 418.1 375.3 421.3 377.6 421.7 379.9 420.0 382.1 420.0 384.4 420.7 386.6 419.7 388.9 420.4 391.1 421.2 393.4 421.7 395.6 422.1 397.9 422.2 400.1 422.9 402.4 423.5 404.7 423.5 406.9 422.5 409.2 422.2 411.4 423.4 413.7 424.0 415.9 423.5 418.2 423.4 420.4 423.8 422.7 423.5 424.9 424.1 427.2 423.3 429.5 423.7 431.7 424.6 434.0 424.3 436.2 424.4 438.5 419.1 440.7 417.5 443.0 412.6 445.2 403.2 447.5 407.1 449.7 398.1 452.0 378.6 454.3 380.6 456.5 395.5 458.8 394.8 461.0 411.0 463.3 417.5 465.5 417.5 467.8 423.9 470.0 424.1 472.3 424.5 474.5 424.0 476.8 423.5 479.1 424.0 481.3 423.8 483.6 424.1 485.8 424.1 488.1 424.6 490.3 425.1 492.6 424.8 494.8 425.0 497.1 426.0 499.3 427.2 501.6 424.0 503.9 394.8 506.1 391.6 508.4 427.2 510.6 427.2 512.9 427.2 515.1 307.4 517.4 427.2 519.6 427.2 521.9 427.2 524.1 427.2 526.4 427.2 528.7 427.2 530.9 427.2 533.2 427.2 535.4 427.2 537.7 427.2 539.9 427.2 542.2 427.2 544.4 427.2 546.7 427.2 548.9 427.2 551.2 427.2 553.5 427.2"/>
<path stroke="#e377c2" d="M102.5 427.2 104.8 427.2 107.1 427.2 109.3 427.2 111.6 427.2 113.8 427.2 116.1 427.2 118.3 427.2 120.6 427.2 122.8 427.2 125.1 427.2 127.3 427.2 129.6 427.2 131.9 427.2 134.1 427.2 136.4 427.2 138.6 427.2 140.9 427.2 143.1 427.2 145.4 427.2 147.6 426.4 149.9 425.7 152.1 426.3 154.4 427.2 156.7 427.2 158.9 427.2 161.2 427.1 163.4 427.1 165.7 427.0 167.9 427.0 170.2 426.8 172.4 426.8 174.7 426.8 176.9 426.6 179.2 426.5 181.5 426.2 183.7 425.3 186.0 425.1 188.2 425.6 190.5 417.5 192.7 407.8 195.0 406.8 197.2 407.8 199.5 415.9 201.7 425.2 204.0 424.9 206.3 425.2 208.5 414.2 210.8 406.2 213.0 401.9 215.3 397.4 217.5 406.2 219.8 407.8 222.0 406.2 224.3 404.5 226.5 414.2 228.8 422.8 231.1 422.6 233.3 423.1 235.6 423.4 237.8 423.0 240.1 422.7 242.3 422.7 244.6 422.6 246.8 421.5 249.1 420.9 251.3 420.8 253.6 420.9 255.9 421.2 258.1 421.7 260.4 421.7 262.6 421.6 264.9 422.2 267.1 421.8 269.4 421.8 271.6 420.0 273.9 420.3 276.1 421.2 278.4 421.1 280.7 420.9 282.9 419.6 285.2 419.6 287.4 420.5 289.7 420.8 291.9 420.2 294.2 420.3 296.4 420.7 298.7 421.2 300.9 421.8 303.2 421.7 305.5 421.5 307.7 421.9 310.0 421.2 312.2 419.4 314.5 419.9 316.7 420.2 319.0 420.6 321.2 419.8 323.5 420.1 325.7 419.9 328.0 419.7 330.3 419.7 332.5 419.5 334.8 421.1 337.0 421.2 339.3 420.8 341.5 420.9 343.8 420.2 346.0 419.5 348.3 420.8 350.5 421.2 352.8 421.6 355.1 422.1 357.3 422.4 359.6 421.3 361.8 420.5 364.1 420.9 366.3 421.0 368.6 422.2 370.8 422.2 373.1 421.9 375.3 421.6 377.6 421.8 379.9 421.5 382.1 421.6 384.4 422.8 386.6 422.8 388.9 422.8 391.1 423.2 393.4 423.5 395.6 424.3 397.9 424.5 400.1 424.7 402.4 424.9 404.7 424.3 406.9 424.2 409.2 424.7 411.4 425.0 413.7 425.3 415.9 425.7 418.2 426.0 420.4 426.1 422.7 425.9 424.9 426.1 427.2 426.3 429.5 426.2 431.7 426.1 434.0 426.3 436.2 426.3 438.5 426.4 440.7 426.2 443.0 426.1 445.2 426.4 447.5 426.3 449.7 426.0 452.0 425.9 454.3 425.6 456.5 425.5 458.8 425.8 461.0 426.2 463.3 417.5 465.5 414.2 467.8 394.8 470.0 407.8 472.3 412.6 474.5 411.0 476.8 407.8 479.1 386.4 481.3 397.7 483.6 411.0 485.8 420.7 488.1 425.9 490.3 425.9 492.6 426.2 494.8 426.5 497.1 426.8 499.3 427.2 501.6 426.6 503.9 425.6 506.1 425.9 508.4 427.2 510.6 427.2 512.9 427.2 515.1 362.3 517.4 427.2 519.6 427.2 521.9 427.2 524.1 427.2 526.4 427.2 528.7 427.2 530.9 427.2 533.2 427.2 535.4 427.2 537.7 427.2 539.9 427.2 542.2 427.2 544.4 427.2 546.7 427.2 548.9 427.2 551.2 427.2 553.5 427.2"/>
<path stroke="#7f7f7f" d="M102.5 427.2 104.8 427.2 107.1 427.2 109.3 427.2 111.6 427.2 113.8 427.2 116.1 427.2 118.3 427.2 120.6 427.2 122.8 427.2 125.1 427.2 127.3 427.2 129.6 427.2 131.9 427.2 134.1 427.2 136.4 427.2 138.6 427.2 140.9 427.2 143.1 427.2 145.4 427.2 147.6 425.6 149.9 424.0 152.1 425.3 154.4 427.1 156.7 427.1 158.9 427.1 161.2 427.0 163.4 426.9 165.7 426.8 167.9 426.6 170.2 426.4 172.4 426.3 174.7 426.1 176.9 426.2 179.2 425.8 181.5 425.6 183.7 425.3 186.0 424.9 188.2 425.1 190.5 424.7 192.7 423.8 195.0 423.9 197.2 424.4 199.5 424.4 201.7 423.7 204.0 423.3 206.3 423.8 208.5 423.5 210.8 423.1 213.0 423.1 215.3 422.7 217.5 422.0 219.8 421.6 222.0 415.9 224.3 407.8 226.5 415.9 228.8 422.3 231.1 422.1 233.3 422.0 235.6 422.5 237.8 422.1 240.1 422.0 242.3 421.7 244.6 421.5 246.8 421.0 249.1 414.2 251.3 404.5 253.6 414.2 255.9 420.5 258.1 420.3 260.4 420.6 262.6 419.3 264.9 418.9 267.1 419.5 269.4 418.9 271.6 418.2 273.9 418.6 276.1 419.9 278.4 420.5 280.7 421.0 282.9 420.2 285.2 419.9 287.4 419.2 289.7 419.0 291.9 420.3 294.2 420.3 296.4 420.2 298.7 420.6 300.9 419.7 303.2 418.9 305.5 418.3 307.7 418.0 310.0 418.4 312.2 418.8 314.5 418.5 316.7 418.3 319.0 418.6 321.2 420.5 323.5 420.1 325.7 420.0 328.0 419.1 330.3 418.0 332.5 418.6 334.8 419.3 337.0 420.0 339.3 419.5 341.5 419.5 343.8 420.1 346.0 419.5 348.3 420.5 350.5 421.4 352.8 420.0 355.1 418.9 357.3 419.1 359.6 419.9 361.8 419.9 364.1 419.0 366.3 419.6 368.6 421.6 370.8 421.4 373.1 420.7 375.3 420.4 377.6 419.8 379.9 419.7 382.1 420.5 384.4 420.8 386.6 420.0 388.9 421.6 391.1 421.4 393.4 420.3 395.6 421.4 397.9 422.3 400.1 422.6 402.4 421.7 404.7 421.2 406.9 422.8 409.2 423.5 411.4 417.5 413.7 407.8 415.9 399.4 418.2 409.4 420.4 419.1 422.7 424.8 424.9 424.5 427.2 424.6 429.5 424.4 431.7 424.4 434.0 424.7 436.2 425.4 438.5 424.9 440.7 424.3 443.0 424.5 445.2 424.9 447.5 424.5 449.7 424.6 452.0 424.4 454.3 424.4 456.5 424.4 458.8 424.8 461.0 425.3 463.3 424.9 465.5 424.2 467.8 424.8 470.0 424.9 472.3 425.1 474.5 424.8 476.8 425.3 479.1 425.4 481.3 424.9 483.6 424.8 485.8 420.7 488.1 417.5 490.3 411.0 492.6 392.9 494.8 417.5 497.1 425.6 499.3 427.2 501.6 424.0 503.9 336.5 506.1 343.0 508.4 427.2 510.6 427.2 512.9 427.2 515.1 165.9 517.4 427.2 519.6 427.2 521.9 427.2 524.1 427.2 526.4 427.2 528.7 427.2 530.9 427.2 533.2 427.2 535.4 427.2 537.7 427.2 539.9 427.2 542.2 427.2 544.4 427.2 546.7 427.2 548.9 427.2 551.2 427.2 553.5 427.2"/>
<path stroke="#bcbd22" d="M102.5 427.2 104.8 427.2 107.1 427.2 109.3 427.2 111.6 427.2 113.8 427.2 116.1 427.2 118.3 427.2 120.6 427.2 122.8 427.2 125.1 427.2 127.3 427.2 129.6 427.2 131.9 427.2 134.1 427.2 136.4 427.2 138.6 427.2 140.9 427.2 143.1 427.2 145.4 427.1 147.6 426.0 149.9 424.7 152.1 425.7 154.4 426.9 156.7 426.9 158.9 426.8 161.2 426.6 163.4 426.2 165.7 415.2 167.9 413.6 170.2 416.2 172.4 417.2 174.7 420.7 176.9 426.2 179.2 424.8 181.5 422.6 183.7 421.5 186.0 422.2 188.2 421.3 190.5 421.5 192.7 419.6 195.0 419.7 197.2 421.3 199.5 421.5 201.7 422.3 204.0 423.3 206.3 421.2 208.5 420.0 210.8 420.0 213.0 421.7 215.3 419.1 217.5 418.4 219.8 419.0 222.0 415.0 224.3 416.6 226.5 419.5 228.8 419.2 231.1 416.6 233.3 414.5 235.6 416.5 237.8 416.6 240.1 414.6 242.3 416.3 244.6 414.2 246.8 409.1 249.1 414.2 251.3 417.6 253.6 417.1 255.9 415.6 258.1 413.1 260.4 415.1 262.6 415.8 264.9 412.4 267.1 411.6 269.4 412.0 271.6 411.6 273.9 412.4 276.1 411.1 278.4 414.0 280.7 416.5 282.9 415.9 285.2 412.6 287.4 407.1 289.7 412.6 291.9 416.3 294.2 417.4 296.4 416.1 298.7 412.3 300.9 411.0 303.2 406.2 305.5 412.6 307.7 416.4 310.0 416.1 312.2 414.8 314.5 412.2 316.7 415.1 319.0 414.8 321.2 412.0 323.5 412.9 325.7 411.0 328.0 409.4 330.3 411.0 332.5 411.0 334.8 411.0 337.0 411.0 339.3 409.4 341.5 403.9 343.8 411.0 346.0 416.1 348.3 418.2 350.5 414.2 352.8 412.6 355.1 409.4 357.3 396.1 359.6 407.8 361.8 409.4 364.1 405.2 366.3 411.0 368.6 406.8 370.8 412.6 373.1 413.9 375.3 412.9 377.6 414.6 379.9 414.5 382.1 416.4 384.4 416.2 386.6 412.4 388.9 415.5 391.1 415.8 393.4 418.6 395.6 418.4 397.9 418.7 400.1 421.2 402.4 421.6 404.7 421.0 406.9 419.9 409.2 419.7 411.4 420.6 413.7 421.4 415.9 422.2 418.2 422.2 420.4 421.3 422.7 422.0 424.9 417.5 427.2 415.9 429.5 411.0 431.7 415.9 434.0 414.2 436.2 410.0 438.5 415.9 440.7 421.7 443.0 420.5 445.2 420.0 447.5 421.7 449.7 421.7 452.0 421.8 454.3 421.3 456.5 419.2 458.8 413.4 461.0 414.2 463.3 407.8 465.5 388.3 467.8 398.1 470.0 411.0 472.3 409.4 474.5 405.5 476.8 424.0 479.1 424.0 481.3 420.6 483.6 420.7 485.8 420.1 488.1 419.5 490.3 419.4 492.6 422.3 494.8 423.8 497.1 425.6 499.3 427.2 501.6 425.6 503.9 416.5 506.1 417.5 508.4 427.2 510.6 427.2 512.9 427.2 515.1 297.7 517.4 427.2 519.6 427.2 521.9 427.2 524.1 427.2 526.4 427.2 528.7 427.2 530.9 427.2 533.2 427.2 535.4 427.2 537.7 427.2 539.9 427.2 542.2 427.2 544.4 427.2 546.7 427.2 548.9 427.2 551.2 427.2 553.5 427.2"/>
<path stroke="#17becf" d="M102.5 427.2 104.8 427.2 107.1 427.2 109.3 427.2 111.6 427.2 113.8 427.2 116.1 427.2 118.3 427.2 120.6 427.2 122.8 427.2 125.1 427.2 127.3 427.2 129.6 427.2 131.9 427.2 134.1 427.2 136.4 427.2 138.6 427.2 140.9 427.2 143.1 427.2 145.4 427.1 147.6 425.3 149.9 422.0 152.1 424.6 154.4 427.0 156.7 427.0 158.9 426.9 161.2 426.8 163.4 426.6 165.7 425.6 167.9 425.3 170.2 425.6 172.4 425.6 174.7 426.2 176.9 425.8 179.2 425.2 181.5 424.3 183.7 424.1 186.0 420.7 188.2 414.9 190.5 420.1 192.7 419.9 195.0 422.2 197.2 421.9 199.5 422.8 201.7 423.6 204.0 423.4 206.3 422.1 208.5 421.7 210.8 420.8 213.0 419.5 215.3 421.9 217.5 422.4 219.8 420.2 222.0 417.9 224.3 418.6 226.5 417.5 228.8 417.3 231.1 418.9 233.3 420.1 235.6 419.0 237.8 416.9 240.1 417.5 242.3 418.2 244.6 417.9 246.8 417.8 249.1 417.1 251.3 417.2 253.6 415.0 255.9 416.2 258.1 417.7 260.4 420.0 262.6 420.2 264.9 418.3 267.1 416.3 269.4 413.0 271.6 416.9 273.9 417.9 276.1 417.0 278.4 418.7 280.7 418.1 282.9 419.4 285.2 420.9 287.4 419.8 289.7 417.4 291.9 416.5 294.2 417.4 296.4 418.3 298.7 416.9 300.9 415.7 303.2 414.1 305.5 412.1 307.7 414.6 310.0 417.9 312.2 417.8 314.5 417.3 316.7 415.9 319.0 413.8 321.2 413.2 323.5 415.7 325.7 417.9 328.0 419.0 330.3 418.4 332.5 414.7 334.8 416.6 337.0 417.1 339.3 415.1 341.5 417.1 343.8 416.9 346.0 417.4 348.3 419.7 350.5 418.1 352.8 410.2 355.1 415.9 357.3 405.5 359.6 414.2 361.8 417.8 364.1 416.1 366.3 417.2 368.6 419.1 370.8 418.1 373.1 416.8 375.3 419.0 377.6 420.3 379.9 420.8 382.1 420.7 384.4 417.5 386.6 417.4 388.9 418.7 391.1 418.3 393.4 418.3 395.6 420.7 397.9 421.6 400.1 420.7 402.4 422.5 404.7 421.8 406.9 419.0 409.2 418.6 411.4 420.6 413.7 421.7 415.9 422.3 418.2 422.7 420.4 422.3 422.7 421.2 424.9 421.3 427.2 420.5 429.5 421.4 431.7 422.5 434.0 422.4 436.2 421.1 438.5 422.2 440.7 421.6 443.0 422.3 445.2 422.0 447.5 422.8 449.7 422.9 452.0 422.9 454.3 422.3 456.5 420.8 458.8 419.7 461.0 421.6 463.3 422.9 465.5 422.7 467.8 423.8 470.0 422.3 472.3 420.8 474.5 423.9 476.8 423.4 479.1 421.6 481.3 419.9 483.6 421.0 485.8 422.0 488.1 420.1 490.3 420.1 492.6 423.1 494.8 424.5 497.1 426.0 499.3 427.2 501.6 426.2 503.9 420.7 506.1 423.3 508.4 427.2 510.6 427.2 512.9 427.2 515.1 276.0 517.4 427.2 519.6 427.2 521.9 427.2 524.1 427.2 526.4 427.2 528.7 427.2 530.9 427.2 533.2 427.2 535.4 427.2 537.7 427.2 539.9 427.2 542.2 427.2 544.4 427.2 546.7 427.2 548.9 427.2 551.2 427.2 553.5 427.2"/>
</g>
<g stroke="#000" stroke-width="1.11" fill="none" stroke-linecap="square">
<path d="M80.5 427.5V58.5M576.5 427.5V58.5M80.5 427.5H576.5M80.5 58.5H576.5"/>
</g>
<path stroke="#000" stroke-width="1.11" d="M140.5 427.5v5M204.5 427.5v5M269.5 427.5v5M333.5 427.5v5M397.5 427.5v5M462.5 427.5v5M526.5 427.5v5M80.5 427.5h-5M80.5 362.5h-5M80.5 297.5h-5M80.5 232.5h-5M80.5 168.5h-5M80.5 103.5h-5"/>
<text x="141.45" y="448.00" font-size="13.889" text-anchor="middle">0</text>
<text x="204.28" y="448.00" font-size="13.889" text-anchor="middle">2</text>
<text x="269.36" y="448.00" font-size="13.889" text-anchor="middle">4</text>
<text x="333.46" y="448.00" font-size="13.889" text-anchor="middle">6</text>
<text x="397.39" y="448.00" font-size="13.889" text-anchor="middle">8</text>
<text x="462.40" y="448.00" font-size="13.889" text-anchor="middle">10</text>
<text x="526.31" y="448.00" font-size="13.889" text-anchor="middle">12</text>
<text x="70.72" y="433.00" font-size="13.889" text-anchor="end">0</text>
<text x="70.74" y="368.00" font-size="13.889" text-anchor="end">2</text>
<text x="70.78" y="303.00" font-size="13.889" text-anchor="end">4</text>
<text x="69.77" y="238.00" font-size="13.889" text-anchor="end">6</text>
<text x="69.88" y="174.00" font-size="13.889" text-anchor="end">8</text>
<text x="70.18" y="109.00" font-size="13.889" text-anchor="end">10</text>
<text x="327.75" y="471.00" font-size="20" text-anchor="middle" textLength="163.75">Frequency (THz)</text>
<text x="42.00" y="243.25" font-size="20" text-anchor="middle" textLength="241.375" transform="rotate(-90 42.00 243.25)">Partial Density of States</text>
</svg></body></html>
